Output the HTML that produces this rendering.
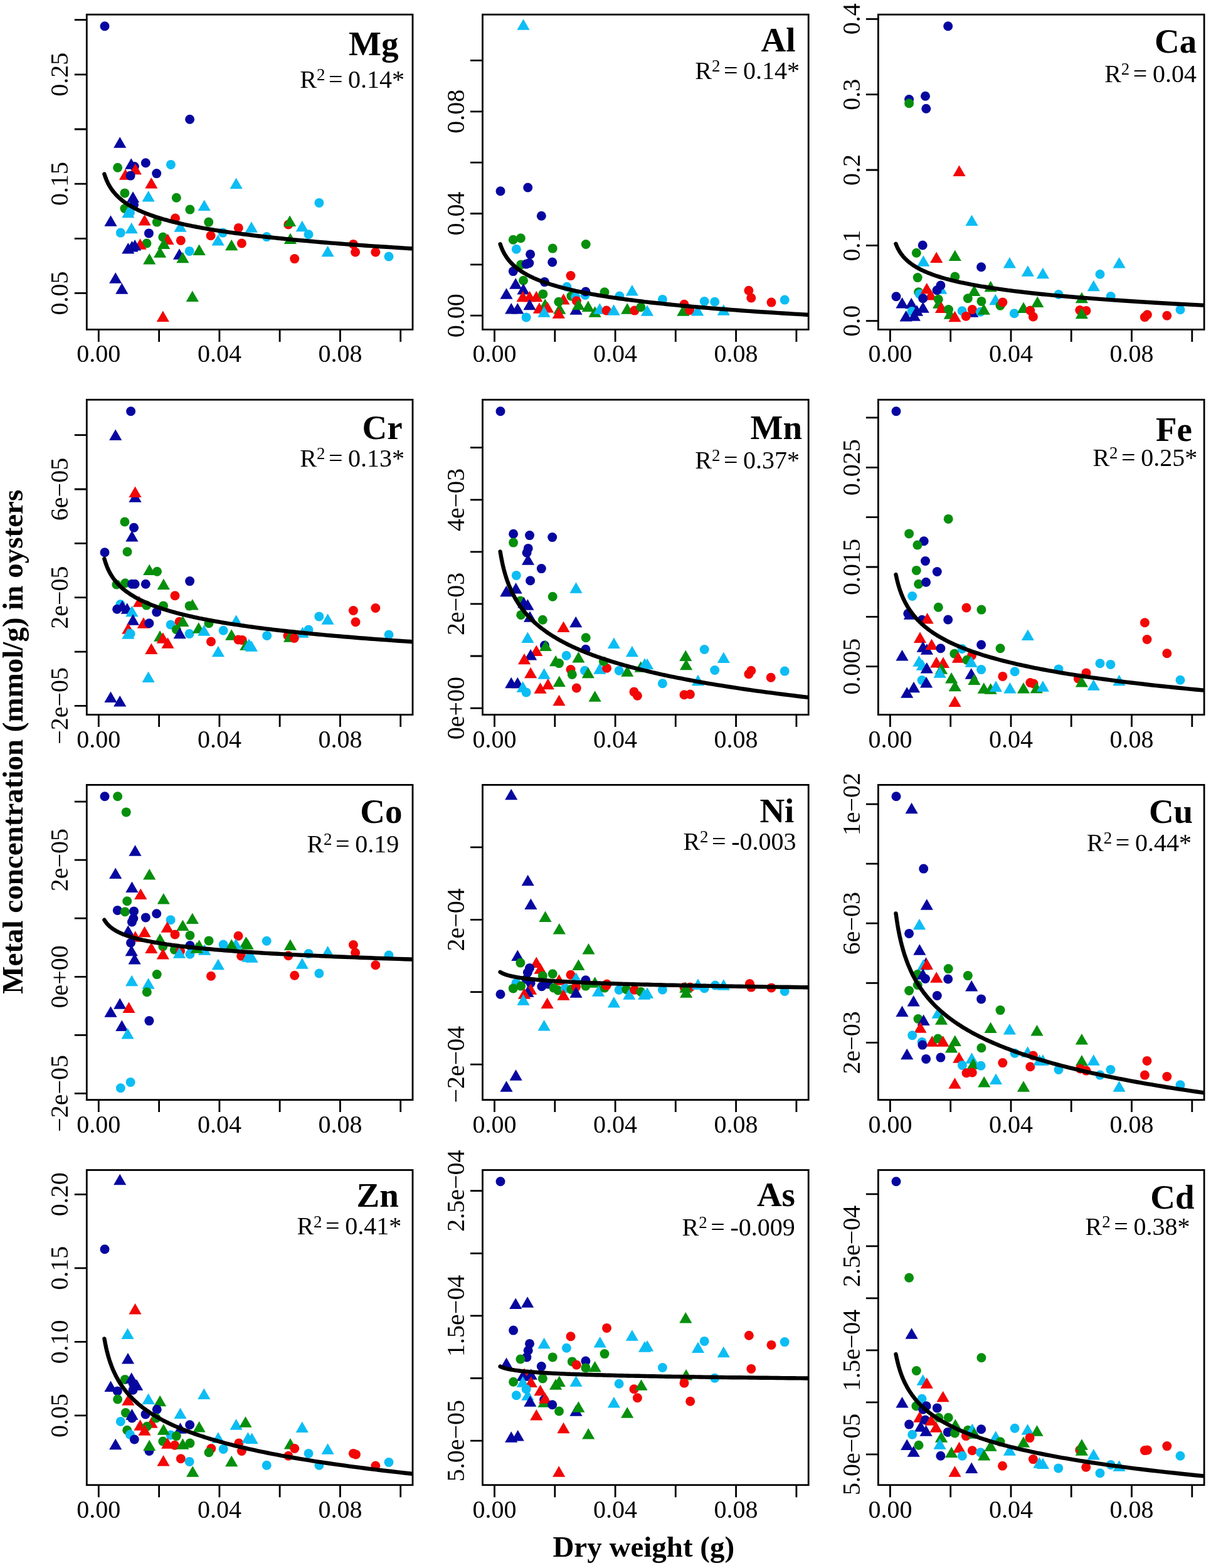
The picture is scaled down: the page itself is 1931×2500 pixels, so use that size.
<!DOCTYPE html><html><head><meta charset="utf-8"><title>Metal concentration vs dry weight</title><style>html,body{margin:0;padding:0;background:#fff;width:1931px;height:2500px;overflow:hidden}svg{display:block}text{font-family:"Liberation Serif","Times New Roman",serif;fill:#000}</style></head><body><svg width="1931" height="2500" viewBox="0 0 1931 2500"><rect width="1931" height="2500" fill="#fff"/><g><clipPath id="cMg"><rect x="138.3" y="23.2" width="519.7" height="502.2"/></clipPath><g clip-path="url(#cMg)"><circle cx="167" cy="41.8" r="7.5" fill="#0707a0"/><circle cx="302.6" cy="190.2" r="7.5" fill="#0707a0"/><path d="M191.2 218.3L201.3 235.8L181.1 235.8Z" fill="#0707a0"/><circle cx="187.6" cy="267.2" r="7.5" fill="#068f0c"/><path d="M209.2 252.3L219.3 269.8L199.1 269.8Z" fill="#0707a0"/><circle cx="214.3" cy="265.5" r="7.5" fill="#0707a0"/><path d="M215.8 260.7L225.9 278.2L205.7 278.2Z" fill="#f20606"/><path d="M200 269.3L210.1 286.8L189.9 286.8Z" fill="#f20606"/><circle cx="208.1" cy="280.1" r="7.5" fill="#0707a0"/><circle cx="232.3" cy="259.8" r="7.5" fill="#0707a0"/><circle cx="249.7" cy="276.6" r="7.5" fill="#0707a0"/><circle cx="272.4" cy="262.4" r="7.5" fill="#0cbdf4"/><path d="M241.3 283.1L251.4 300.6L231.2 300.6Z" fill="#f20606"/><path d="M376.6 283.4L386.7 300.9L366.5 300.9Z" fill="#0cbdf4"/><circle cx="198.9" cy="307.9" r="7.5" fill="#068f0c"/><path d="M212 305.3L222.1 322.8L201.9 322.8Z" fill="#0707a0"/><circle cx="213.5" cy="326.4" r="7.5" fill="#0707a0"/><path d="M236.6 303.9L246.7 321.4L226.5 321.4Z" fill="#0cbdf4"/><circle cx="281.3" cy="315.3" r="7.5" fill="#068f0c"/><circle cx="302.9" cy="334.1" r="7.5" fill="#068f0c"/><path d="M325.7 318.5L335.8 336L315.6 336Z" fill="#0cbdf4"/><circle cx="198.9" cy="332.5" r="7.5" fill="#068f0c"/><circle cx="207.4" cy="338.7" r="7.5" fill="#0cbdf4"/><path d="M204.3 329.8L214.4 347.3L194.2 347.3Z" fill="#0cbdf4"/><path d="M176.5 343.2L186.6 360.7L166.4 360.7Z" fill="#0707a0"/><path d="M230.5 342.1L240.6 359.6L220.4 359.6Z" fill="#f20606"/><circle cx="250.2" cy="354.1" r="7.5" fill="#068f0c"/><circle cx="279.5" cy="348" r="7.5" fill="#f20606"/><circle cx="332.7" cy="354.1" r="7.5" fill="#068f0c"/><circle cx="380.3" cy="363.4" r="7.5" fill="#f20606"/><circle cx="192.3" cy="371.1" r="7.5" fill="#0cbdf4"/><path d="M209.7 354.8L219.8 372.3L199.6 372.3Z" fill="#0cbdf4"/><circle cx="237.4" cy="371.9" r="7.5" fill="#0707a0"/><path d="M287.5 352.3L297.6 369.8L277.4 369.8Z" fill="#0cbdf4"/><circle cx="336.1" cy="375.7" r="7.5" fill="#f20606"/><circle cx="355.3" cy="371.1" r="7.5" fill="#0cbdf4"/><circle cx="259.8" cy="378" r="7.5" fill="#068f0c"/><path d="M267.5 372.5L277.6 390L257.4 390Z" fill="#f20606"/><circle cx="288.3" cy="383.4" r="7.5" fill="#f20606"/><path d="M347.6 374L357.7 391.5L337.5 391.5Z" fill="#0cbdf4"/><path d="M369.2 381.7L379.3 399.2L359.1 399.2Z" fill="#068f0c"/><circle cx="385.4" cy="388" r="7.5" fill="#f20606"/><circle cx="233.9" cy="388" r="7.5" fill="#068f0c"/><path d="M223.5 380.2L233.6 397.7L213.4 397.7Z" fill="#f20606"/><path d="M204.3 387.1L214.4 404.6L194.2 404.6Z" fill="#0707a0"/><path d="M210.4 384.1L220.5 401.6L200.3 401.6Z" fill="#0707a0"/><path d="M215.1 382.1L225.2 399.6L205 399.6Z" fill="#0707a0"/><path d="M261.3 379.4L271.4 396.9L251.2 396.9Z" fill="#068f0c"/><path d="M255.1 393.3L265.2 410.8L245 410.8Z" fill="#068f0c"/><circle cx="302.1" cy="400.4" r="7.5" fill="#0cbdf4"/><path d="M317.6 389.4L327.7 406.9L307.5 406.9Z" fill="#068f0c"/><path d="M286 396.3L296.1 413.8L275.9 413.8Z" fill="#0707a0"/><path d="M291.4 401.8L301.5 419.3L281.3 419.3Z" fill="#068f0c"/><path d="M238.2 404.1L248.3 421.6L228.1 421.6Z" fill="#068f0c"/><path d="M184.2 434.3L194.3 451.8L174.1 451.8Z" fill="#0707a0"/><path d="M194.3 451.2L204.4 468.7L184.2 468.7Z" fill="#0707a0"/><path d="M306.8 463.6L316.9 481.1L296.7 481.1Z" fill="#068f0c"/><path d="M259.8 495.6L269.9 513.1L249.7 513.1Z" fill="#f20606"/><circle cx="508.9" cy="323.4" r="7.5" fill="#0cbdf4"/><circle cx="459.8" cy="358" r="7.5" fill="#f20606"/><path d="M462.1 343.6L472.2 361.1L452 361.1Z" fill="#068f0c"/><path d="M400.9 353.3L411 370.8L390.8 370.8Z" fill="#0cbdf4"/><path d="M481.8 351.8L491.9 369.3L471.7 369.3Z" fill="#0cbdf4"/><circle cx="492" cy="373.7" r="7.5" fill="#0cbdf4"/><circle cx="425.2" cy="377.6" r="7.5" fill="#0cbdf4"/><path d="M462.9 371.4L473 388.9L452.8 388.9Z" fill="#068f0c"/><path d="M522.6 391.8L532.7 409.3L512.5 409.3Z" fill="#0cbdf4"/><circle cx="563.4" cy="389.4" r="7.5" fill="#f20606"/><circle cx="566.6" cy="402" r="7.5" fill="#f20606"/><circle cx="598.8" cy="402" r="7.5" fill="#f20606"/><circle cx="620" cy="409" r="7.5" fill="#0cbdf4"/><circle cx="469.7" cy="412.6" r="7.5" fill="#f20606"/><path d="M166.4 277.6L166.8 278.8L167.2 279.9L167.6 281.1L168 282.2L168.4 283.4L168.9 284.6L169.3 285.7L169.8 286.9L170.3 288.1L170.8 289.2L171.4 290.4L171.9 291.6L172.5 292.7L173.1 293.9L173.8 295L174.4 296.2L175.1 297.4L175.8 298.5L176.6 299.7L177.3 300.9L178.1 302L179 303.2L179.8 304.4L180.7 305.5L181.7 306.7L182.7 307.8L183.7 309L184.7 310.2L185.8 311.3L187 312.5L188.2 313.7L189.4 314.8L190.7 316L192 317.2L193.4 318.3L194.8 319.5L196.3 320.6L197.9 321.8L199.5 323L201.2 324.1L203 325.3L204.8 326.5L206.7 327.6L208.7 328.8L210.7 330L212.9 331.1L215.1 332.3L217.4 333.4L219.8 334.6L222.3 335.8L224.9 336.9L227.6 338.1L230.4 339.3L233.3 340.4L236.4 341.6L239.5 342.8L242.8 343.9L246.3 345.1L249.8 346.2L253.5 347.4L257.4 348.6L259.4 349.2L261.4 349.8L263.5 350.3L265.6 350.9L267.8 351.5L270 352.1L272.2 352.7L274.5 353.3L276.9 353.9L279.3 354.5L281.7 355L284.2 355.6L286.7 356.2L289.3 356.8L292 357.4L294.7 358L297.4 358.6L300.2 359.2L303.1 359.7L306 360.3L309 360.9L312 361.5L315.1 362.1L318.3 362.7L321.5 363.3L324.8 363.9L328.1 364.4L331.5 365L335 365.6L338.6 366.2L342.2 366.8L345.9 367.4L349.7 368L353.5 368.6L357.4 369.1L361.4 369.7L365.5 370.3L369.7 370.9L373.9 371.5L378.3 372.1L382.7 372.7L387.2 373.3L391.8 373.8L396.5 374.4L401.3 375L406.1 375.6L411.1 376.2L416.2 376.8L421.4 377.4L426.6 378L432 378.5L437.5 379.1L443.1 379.7L448.8 380.3L454.7 380.9L460.6 381.5L466.7 382.1L472.9 382.7L479.2 383.2L485.6 383.8L492.2 384.4L498.9 385L505.7 385.6L512.7 386.2L519.8 386.8L527 387.4L534.4 387.9L542 388.5L549.7 389.1L557.5 389.7L565.5 390.3L573.7 390.9L582 391.5L590.5 392.1L599.2 392.6L608 393.2L617 393.8L626.2 394.4L635.6 395L645.2 395.6L654.9 396.2L664.9 396.8" fill="none" stroke="#000" stroke-width="6.4" stroke-linejoin="round" stroke-linecap="round"/></g><rect x="138.3" y="23.2" width="519.7" height="502.2" fill="none" stroke="#000" stroke-width="2.8"/><path d="M157.3 525.4V544.9M253.6 525.4V544.9M349.9 525.4V544.9M446.1 525.4V544.9M542.4 525.4V544.9M638.7 525.4V544.9M138.3 467.4H118.8M138.3 380.3H118.8M138.3 293.1H118.8M138.3 206H118.8M138.3 118.8H118.8M138.3 31.7H118.8" stroke="#000" stroke-width="2.8" fill="none"/><text x="157.3" y="577.4" font-size="40.0" text-anchor="middle">0.00</text><text x="349.9" y="577.4" font-size="40.0" text-anchor="middle">0.04</text><text x="542.4" y="577.4" font-size="40.0" text-anchor="middle">0.08</text><text transform="translate(108.4 467.4) rotate(-90)" font-size="40.0" text-anchor="middle">0.05</text><text transform="translate(108.4 293.1) rotate(-90)" font-size="40.0" text-anchor="middle">0.15</text><text transform="translate(108.4 118.8) rotate(-90)" font-size="40.0" text-anchor="middle">0.25</text><text x="635.5" y="87.5" font-size="55" font-weight="bold" text-anchor="end">Mg</text><text x="478.3" y="140.3" font-size="40.0">R</text><text x="504.9" y="128.4" font-size="26.9">2</text><text x="523.9" y="140.3" font-size="40.0">=</text><text x="555.1" y="140.3" font-size="40.0">0.14*</text></g><g><clipPath id="cAl"><rect x="769.5" y="23.2" width="519.7" height="502.2"/></clipPath><g clip-path="url(#cAl)"><path d="M834.5 30.3L844.6 47.8L824.4 47.8Z" fill="#0cbdf4"/><circle cx="798" cy="304.7" r="7.5" fill="#0707a0"/><circle cx="841.7" cy="299" r="7.5" fill="#0707a0"/><circle cx="863.3" cy="344.3" r="7.5" fill="#0707a0"/><circle cx="818.3" cy="382.2" r="7.5" fill="#068f0c"/><circle cx="830.3" cy="379.8" r="7.5" fill="#068f0c"/><circle cx="934.2" cy="389.5" r="7.5" fill="#068f0c"/><circle cx="823.3" cy="397.2" r="7.5" fill="#0cbdf4"/><circle cx="881.2" cy="396.1" r="7.5" fill="#068f0c"/><circle cx="845.6" cy="405.4" r="7.5" fill="#0707a0"/><circle cx="830.7" cy="421.9" r="7.5" fill="#068f0c"/><circle cx="839.1" cy="421.1" r="7.5" fill="#0707a0"/><circle cx="843.8" cy="419.5" r="7.5" fill="#0707a0"/><circle cx="880.7" cy="418" r="7.5" fill="#0707a0"/><circle cx="818.3" cy="432.6" r="7.5" fill="#0707a0"/><circle cx="910" cy="439.6" r="7.5" fill="#f20606"/><circle cx="834.5" cy="447.3" r="7.5" fill="#068f0c"/><circle cx="868.4" cy="449.6" r="7.5" fill="#0707a0"/><path d="M822.2 443.3L832.3 460.8L812.1 460.8Z" fill="#0707a0"/><path d="M807.5 459.2L817.6 476.7L797.4 476.7Z" fill="#0707a0"/><path d="M834.5 452.1L844.6 469.6L824.4 469.6Z" fill="#0707a0"/><circle cx="903.9" cy="457.3" r="7.5" fill="#0cbdf4"/><path d="M833.7 463.8L843.8 481.3L823.6 481.3Z" fill="#f20606"/><path d="M844.5 463.8L854.6 481.3L834.4 481.3Z" fill="#f20606"/><path d="M855.3 463.8L865.4 481.3L845.2 481.3Z" fill="#f20606"/><circle cx="865.8" cy="468.9" r="7.5" fill="#068f0c"/><circle cx="910.8" cy="472" r="7.5" fill="#068f0c"/><circle cx="917.7" cy="473.5" r="7.5" fill="#0cbdf4"/><path d="M898.5 468L908.6 485.5L888.4 485.5Z" fill="#f20606"/><circle cx="919.3" cy="479.7" r="7.5" fill="#f20606"/><circle cx="933.1" cy="470.4" r="7.5" fill="#0cbdf4"/><circle cx="933.9" cy="465" r="7.5" fill="#0707a0"/><circle cx="964" cy="465.8" r="7.5" fill="#068f0c"/><circle cx="987.9" cy="472" r="7.5" fill="#0cbdf4"/><path d="M1007.9 454.1L1018 471.6L997.8 471.6Z" fill="#0cbdf4"/><path d="M844.5 476.7L854.6 494.2L834.4 494.2Z" fill="#0707a0"/><path d="M869.2 476.3L879.3 493.8L859.1 493.8Z" fill="#068f0c"/><circle cx="890.8" cy="481.2" r="7.5" fill="#068f0c"/><path d="M859.9 482.3L870 499.8L849.8 499.8Z" fill="#f20606"/><path d="M873 481.1L883.1 498.6L862.9 498.6Z" fill="#f20606"/><path d="M892.3 483.3L902.4 500.8L882.2 500.8Z" fill="#068f0c"/><path d="M918.5 484.3L928.6 501.8L908.4 501.8Z" fill="#0707a0"/><path d="M922.4 476.4L932.5 493.9L912.3 493.9Z" fill="#068f0c"/><path d="M937.8 479.5L947.9 497L927.7 497Z" fill="#068f0c"/><path d="M948.6 488.3L958.7 505.8L938.5 505.8Z" fill="#068f0c"/><path d="M956.3 483.3L966.4 500.8L946.2 500.8Z" fill="#0cbdf4"/><circle cx="967.1" cy="495.1" r="7.5" fill="#f20606"/><path d="M978.6 485.3L988.7 502.8L968.5 502.8Z" fill="#0cbdf4"/><path d="M1000.2 483.3L1010.3 500.8L990.1 500.8Z" fill="#068f0c"/><circle cx="1011.8" cy="495.1" r="7.5" fill="#f20606"/><circle cx="1021.8" cy="489.7" r="7.5" fill="#068f0c"/><path d="M815.2 483.1L825.3 500.6L805.1 500.6Z" fill="#0707a0"/><path d="M825.3 483.1L835.4 500.6L815.2 500.6Z" fill="#0707a0"/><path d="M890.8 490.3L900.9 507.8L880.7 507.8Z" fill="#f20606"/><path d="M867.6 488.3L877.7 505.8L857.5 505.8Z" fill="#0cbdf4"/><circle cx="839.1" cy="505.9" r="7.5" fill="#0cbdf4"/><circle cx="1056.4" cy="477.4" r="7.5" fill="#0cbdf4"/><path d="M1032 486.3L1042.1 503.8L1021.9 503.8Z" fill="#0cbdf4"/><circle cx="1091" cy="485.2" r="7.5" fill="#f20606"/><path d="M1089.4 486.3L1099.5 503.8L1079.3 503.8Z" fill="#068f0c"/><circle cx="1099.6" cy="494.6" r="7.5" fill="#f20606"/><path d="M1112.2 486.1L1122.3 503.6L1102.1 503.6Z" fill="#0cbdf4"/><circle cx="1123.2" cy="480.5" r="7.5" fill="#0cbdf4"/><circle cx="1139.7" cy="481.3" r="7.5" fill="#0cbdf4"/><path d="M1153.8 485.3L1163.9 502.8L1143.7 502.8Z" fill="#0cbdf4"/><circle cx="1193.9" cy="463.2" r="7.5" fill="#f20606"/><circle cx="1197.8" cy="475" r="7.5" fill="#f20606"/><circle cx="1230" cy="482.1" r="7.5" fill="#f20606"/><circle cx="1251.2" cy="478.1" r="7.5" fill="#0cbdf4"/><path d="M797.6 389.2L798 390.3L798.4 391.4L798.8 392.5L799.2 393.6L799.6 394.7L800.1 395.8L800.5 396.9L801 398L801.5 399.1L802 400.2L802.6 401.3L803.1 402.4L803.7 403.5L804.3 404.6L805 405.7L805.6 406.8L806.3 407.9L807 409L807.8 410.1L808.5 411.2L809.3 412.3L810.2 413.5L811 414.6L811.9 415.7L812.9 416.8L813.9 417.9L814.9 419L815.9 420.1L817 421.2L818.2 422.3L819.4 423.4L820.6 424.5L821.9 425.6L823.2 426.7L824.6 427.8L826 428.9L827.5 430L829.1 431.1L830.7 432.2L832.4 433.3L834.2 434.4L836 435.5L837.9 436.6L839.9 437.7L841.9 438.9L844.1 440L846.3 441.1L848.6 442.2L851 443.3L853.5 444.4L856.1 445.5L858.8 446.6L861.6 447.7L864.5 448.8L867.6 449.9L870.7 451L874 452.1L877.5 453.2L881 454.3L884.7 455.4L888.6 456.5L890.6 457.1L892.6 457.6L894.7 458.2L896.8 458.8L899 459.3L901.2 459.9L903.4 460.4L905.7 461L908.1 461.5L910.5 462.1L912.9 462.7L915.4 463.2L917.9 463.8L920.5 464.3L923.2 464.9L925.9 465.4L928.6 466L931.4 466.6L934.3 467.1L937.2 467.7L940.2 468.2L943.2 468.8L946.3 469.3L949.5 469.9L952.7 470.5L956 471L959.3 471.6L962.7 472.1L966.2 472.7L969.8 473.3L973.4 473.8L977.1 474.4L980.9 474.9L984.7 475.5L988.6 476L992.6 476.6L996.7 477.2L1000.9 477.7L1005.1 478.3L1009.5 478.8L1013.9 479.4L1018.4 479.9L1023 480.5L1027.7 481.1L1032.5 481.6L1037.3 482.2L1042.3 482.7L1047.4 483.3L1052.6 483.8L1057.8 484.4L1063.2 485L1068.7 485.5L1074.3 486.1L1080 486.6L1085.9 487.2L1091.8 487.8L1097.9 488.3L1104.1 488.9L1110.4 489.4L1116.8 490L1123.4 490.5L1130.1 491.1L1136.9 491.7L1143.9 492.2L1151 492.8L1158.2 493.3L1165.6 493.9L1173.2 494.4L1180.9 495L1188.7 495.6L1196.7 496.1L1204.9 496.7L1213.2 497.2L1221.7 497.8L1230.4 498.3L1239.2 498.9L1248.2 499.5L1257.4 500L1266.8 500.6L1276.4 501.1L1286.1 501.7L1296.1 502.3" fill="none" stroke="#000" stroke-width="6.4" stroke-linejoin="round" stroke-linecap="round"/></g><rect x="769.5" y="23.2" width="519.7" height="502.2" fill="none" stroke="#000" stroke-width="2.8"/><path d="M788.5 525.4V544.9M884.8 525.4V544.9M981.1 525.4V544.9M1077.3 525.4V544.9M1173.6 525.4V544.9M1269.9 525.4V544.9M769.5 503.2H750M769.5 421.8H750M769.5 340.5H750M769.5 259.1H750M769.5 177.8H750M769.5 96.4H750" stroke="#000" stroke-width="2.8" fill="none"/><text x="788.5" y="577.4" font-size="40.0" text-anchor="middle">0.00</text><text x="981.1" y="577.4" font-size="40.0" text-anchor="middle">0.04</text><text x="1173.6" y="577.4" font-size="40.0" text-anchor="middle">0.08</text><text transform="translate(739.6 503.2) rotate(-90)" font-size="40.0" text-anchor="middle">0.00</text><text transform="translate(739.6 340.5) rotate(-90)" font-size="40.0" text-anchor="middle">0.04</text><text transform="translate(739.6 177.8) rotate(-90)" font-size="40.0" text-anchor="middle">0.08</text><text x="1268.5" y="81.6" font-size="55" font-weight="bold" text-anchor="end">Al</text><text x="1108.3" y="126" font-size="40.0">R</text><text x="1134.9" y="114.1" font-size="26.9">2</text><text x="1153.9" y="126" font-size="40.0">=</text><text x="1185.1" y="126" font-size="40.0">0.14*</text></g><g><clipPath id="cCa"><rect x="1400.4" y="23.2" width="519.7" height="502.2"/></clipPath><g clip-path="url(#cCa)"><circle cx="1511.7" cy="41.8" r="7.5" fill="#0707a0"/><circle cx="1449.6" cy="158.6" r="7.5" fill="#0707a0"/><circle cx="1449.6" cy="164.8" r="7.5" fill="#068f0c"/><circle cx="1475.5" cy="153.2" r="7.5" fill="#0707a0"/><circle cx="1476.8" cy="173.3" r="7.5" fill="#0707a0"/><path d="M1529.5 263.6L1539.6 281.1L1519.4 281.1Z" fill="#f20606"/><path d="M1549.5 342.5L1559.6 360L1539.4 360Z" fill="#0cbdf4"/><circle cx="1471.2" cy="391" r="7.5" fill="#0707a0"/><circle cx="1461.3" cy="403.3" r="7.5" fill="#068f0c"/><path d="M1472.4 407.3L1482.5 424.8L1462.3 424.8Z" fill="#0cbdf4"/><path d="M1493.2 401.6L1503.3 419.1L1483.1 419.1Z" fill="#f20606"/><path d="M1522.8 398.6L1532.9 416.1L1512.7 416.1Z" fill="#068f0c"/><circle cx="1564.6" cy="425.7" r="7.5" fill="#0707a0"/><path d="M1609.9 410.1L1620 427.6L1599.8 427.6Z" fill="#0cbdf4"/><path d="M1638.9 423.2L1649 440.7L1628.8 440.7Z" fill="#0cbdf4"/><path d="M1662.9 426.7L1673 444.2L1652.8 444.2Z" fill="#0cbdf4"/><circle cx="1463.2" cy="442.6" r="7.5" fill="#068f0c"/><circle cx="1522.8" cy="441.1" r="7.5" fill="#068f0c"/><circle cx="1464.7" cy="465.7" r="7.5" fill="#068f0c"/><circle cx="1466.3" cy="468.8" r="7.5" fill="#0cbdf4"/><path d="M1477.8 451L1487.9 468.5L1467.7 468.5Z" fill="#f20606"/><path d="M1500.2 451.3L1510.3 468.8L1490.1 468.8Z" fill="#0cbdf4"/><circle cx="1494" cy="462.7" r="7.5" fill="#0707a0"/><circle cx="1499.9" cy="455" r="7.5" fill="#0707a0"/><circle cx="1429" cy="472.7" r="7.5" fill="#0707a0"/><path d="M1438.5 474.1L1448.6 491.6L1428.4 491.6Z" fill="#0707a0"/><path d="M1453.2 474.7L1463.3 492.2L1443.1 492.2Z" fill="#0707a0"/><path d="M1484 461L1494.1 478.5L1473.9 478.5Z" fill="#f20606"/><circle cx="1471.7" cy="475.8" r="7.5" fill="#0707a0"/><circle cx="1496.3" cy="477.3" r="7.5" fill="#068f0c"/><circle cx="1454" cy="496.6" r="7.5" fill="#0cbdf4"/><path d="M1471.7 481.3L1481.8 498.8L1461.6 498.8Z" fill="#0707a0"/><path d="M1462 486.3L1472.1 503.8L1451.9 503.8Z" fill="#0707a0"/><path d="M1444.7 494.9L1454.8 512.4L1434.6 512.4Z" fill="#0707a0"/><path d="M1457.8 494.3L1467.9 511.8L1447.7 511.8Z" fill="#0707a0"/><path d="M1497.1 474.3L1507.2 491.8L1487 491.8Z" fill="#068f0c"/><path d="M1501 481.6L1511.1 499.1L1490.9 499.1Z" fill="#f20606"/><circle cx="1512.5" cy="493.5" r="7.5" fill="#068f0c"/><path d="M1514.8 491.3L1524.9 508.8L1504.7 508.8Z" fill="#068f0c"/><path d="M1522.5 495.7L1532.6 513.2L1512.4 513.2Z" fill="#f20606"/><circle cx="1534.1" cy="495.8" r="7.5" fill="#0cbdf4"/><path d="M1550.3 488.3L1560.4 505.8L1540.2 505.8Z" fill="#0707a0"/><circle cx="1550.3" cy="493.5" r="7.5" fill="#f20606"/><circle cx="1540.3" cy="504.3" r="7.5" fill="#f20606"/><circle cx="1563.4" cy="497.3" r="7.5" fill="#0cbdf4"/><path d="M1568.8 484.2L1578.9 501.7L1558.7 501.7Z" fill="#068f0c"/><path d="M1553.4 454.5L1563.5 472L1543.3 472Z" fill="#068f0c"/><circle cx="1543.3" cy="475.8" r="7.5" fill="#068f0c"/><path d="M1579.6 447.7L1589.7 465.2L1569.5 465.2Z" fill="#068f0c"/><circle cx="1564.9" cy="480.4" r="7.5" fill="#068f0c"/><path d="M1587.3 468.8L1597.4 486.3L1577.2 486.3Z" fill="#0cbdf4"/><circle cx="1595" cy="487.3" r="7.5" fill="#068f0c"/><circle cx="1598.8" cy="481.9" r="7.5" fill="#f20606"/><circle cx="1617.3" cy="499.7" r="7.5" fill="#0cbdf4"/><path d="M1632 481.6L1642.1 499.1L1621.9 499.1Z" fill="#068f0c"/><circle cx="1642.8" cy="495" r="7.5" fill="#f20606"/><circle cx="1647.4" cy="505" r="7.5" fill="#f20606"/><path d="M1654.3 472.6L1664.4 490.1L1644.2 490.1Z" fill="#068f0c"/><path d="M1784.6 409.9L1794.7 427.4L1774.5 427.4Z" fill="#0cbdf4"/><circle cx="1754" cy="437.3" r="7.5" fill="#0cbdf4"/><path d="M1743.8 446.8L1753.9 464.3L1733.7 464.3Z" fill="#0cbdf4"/><circle cx="1688" cy="469.5" r="7.5" fill="#0cbdf4"/><circle cx="1771.2" cy="472.6" r="7.5" fill="#0cbdf4"/><path d="M1724.9 465.7L1735 483.2L1714.8 483.2Z" fill="#068f0c"/><circle cx="1721.8" cy="494.6" r="7.5" fill="#f20606"/><circle cx="1732" cy="495.4" r="7.5" fill="#f20606"/><path d="M1724.9 490.8L1735 508.3L1714.8 508.3Z" fill="#068f0c"/><circle cx="1825.4" cy="505.6" r="7.5" fill="#f20606"/><circle cx="1829.4" cy="501.7" r="7.5" fill="#f20606"/><circle cx="1860.8" cy="503.3" r="7.5" fill="#f20606"/><circle cx="1882" cy="493.8" r="7.5" fill="#0cbdf4"/><path d="M1428.5 388.8L1428.9 389.8L1429.3 390.8L1429.7 391.7L1430.1 392.7L1430.5 393.6L1431 394.6L1431.4 395.6L1431.9 396.5L1432.4 397.5L1432.9 398.4L1433.5 399.4L1434 400.3L1434.6 401.3L1435.2 402.3L1435.9 403.2L1436.5 404.2L1437.2 405.1L1437.9 406.1L1438.7 407.1L1439.4 408L1440.2 409L1441.1 409.9L1441.9 410.9L1442.8 411.9L1443.8 412.8L1444.8 413.8L1445.8 414.7L1446.8 415.7L1447.9 416.7L1449.1 417.6L1450.3 418.6L1451.5 419.5L1452.8 420.5L1454.1 421.5L1455.5 422.4L1456.9 423.4L1458.4 424.3L1460 425.3L1461.6 426.3L1463.3 427.2L1465.1 428.2L1466.9 429.1L1468.8 430.1L1470.8 431L1472.8 432L1475 433L1477.2 433.9L1479.5 434.9L1481.9 435.8L1484.4 436.8L1487 437.8L1489.7 438.7L1492.5 439.7L1495.4 440.6L1498.5 441.6L1501.6 442.6L1504.9 443.5L1508.4 444.5L1511.9 445.4L1515.6 446.4L1519.5 447.4L1521.5 447.8L1523.5 448.3L1525.6 448.8L1527.7 449.3L1529.9 449.8L1532.1 450.3L1534.3 450.7L1536.6 451.2L1539 451.7L1541.4 452.2L1543.8 452.7L1546.3 453.2L1548.8 453.7L1551.4 454.1L1554.1 454.6L1556.8 455.1L1559.5 455.6L1562.3 456.1L1565.2 456.6L1568.1 457L1571.1 457.5L1574.1 458L1577.2 458.5L1580.4 459L1583.6 459.5L1586.9 459.9L1590.2 460.4L1593.6 460.9L1597.1 461.4L1600.7 461.9L1604.3 462.4L1608 462.9L1611.8 463.3L1615.6 463.8L1619.5 464.3L1623.5 464.8L1627.6 465.3L1631.8 465.8L1636 466.2L1640.4 466.7L1644.8 467.2L1649.3 467.7L1653.9 468.2L1658.6 468.7L1663.4 469.2L1668.2 469.6L1673.2 470.1L1678.3 470.6L1683.5 471.1L1688.7 471.6L1694.1 472.1L1699.6 472.5L1705.2 473L1710.9 473.5L1716.8 474L1722.7 474.5L1728.8 475L1735 475.4L1741.3 475.9L1747.7 476.4L1754.3 476.9L1761 477.4L1767.8 477.9L1774.8 478.4L1781.9 478.8L1789.1 479.3L1796.5 479.8L1804.1 480.3L1811.8 480.8L1819.6 481.3L1827.6 481.7L1835.8 482.2L1844.1 482.7L1852.6 483.2L1861.3 483.7L1870.1 484.2L1879.1 484.7L1888.3 485.1L1897.7 485.6L1907.3 486.1L1917 486.6L1927 487.1" fill="none" stroke="#000" stroke-width="6.4" stroke-linejoin="round" stroke-linecap="round"/></g><rect x="1400.4" y="23.2" width="519.7" height="502.2" fill="none" stroke="#000" stroke-width="2.8"/><path d="M1419.4 525.4V544.9M1515.7 525.4V544.9M1612 525.4V544.9M1708.2 525.4V544.9M1804.5 525.4V544.9M1900.8 525.4V544.9M1400.4 511.7H1380.9M1400.4 391.4H1380.9M1400.4 271H1380.9M1400.4 150.7H1380.9M1400.4 30.3H1380.9" stroke="#000" stroke-width="2.8" fill="none"/><text x="1419.4" y="577.4" font-size="40.0" text-anchor="middle">0.00</text><text x="1612" y="577.4" font-size="40.0" text-anchor="middle">0.04</text><text x="1804.5" y="577.4" font-size="40.0" text-anchor="middle">0.08</text><text transform="translate(1370.5 511.7) rotate(-90)" font-size="40.0" text-anchor="middle">0.0</text><text transform="translate(1370.5 391.4) rotate(-90)" font-size="40.0" text-anchor="middle">0.1</text><text transform="translate(1370.5 271) rotate(-90)" font-size="40.0" text-anchor="middle">0.2</text><text transform="translate(1370.5 150.7) rotate(-90)" font-size="40.0" text-anchor="middle">0.3</text><text transform="translate(1370.5 30.3) rotate(-90)" font-size="40.0" text-anchor="middle">0.4</text><text x="1908.3" y="84.4" font-size="55" font-weight="bold" text-anchor="end">Ca</text><text x="1761.2" y="130.7" font-size="40.0">R</text><text x="1787.8" y="118.8" font-size="26.9">2</text><text x="1806.8" y="130.7" font-size="40.0">=</text><text x="1838" y="130.7" font-size="40.0">0.04</text></g><g><clipPath id="cCr"><rect x="138.3" y="637.3" width="519.7" height="502.2"/></clipPath><g clip-path="url(#cCr)"><circle cx="208.6" cy="655.8" r="7.5" fill="#0707a0"/><path d="M184.2 684.5L194.3 702L174.1 702Z" fill="#0707a0"/><path d="M215.5 783.3L225.6 800.8L205.4 800.8Z" fill="#0707a0"/><path d="M215.5 775.6L225.6 793.1L205.4 793.1Z" fill="#f20606"/><circle cx="198.9" cy="832" r="7.5" fill="#068f0c"/><circle cx="213.5" cy="841.2" r="7.5" fill="#0707a0"/><path d="M210.4 846L220.5 863.5L200.3 863.5Z" fill="#0707a0"/><circle cx="167" cy="880.8" r="7.5" fill="#0707a0"/><circle cx="203" cy="879.8" r="7.5" fill="#068f0c"/><path d="M238.2 899.5L248.3 917L228.1 917Z" fill="#068f0c"/><circle cx="250.5" cy="911.2" r="7.5" fill="#068f0c"/><circle cx="302.6" cy="926.6" r="7.5" fill="#0707a0"/><circle cx="185.8" cy="932" r="7.5" fill="#068f0c"/><circle cx="199.7" cy="929.7" r="7.5" fill="#068f0c"/><circle cx="210.4" cy="931.2" r="7.5" fill="#0707a0"/><circle cx="215.1" cy="931.2" r="7.5" fill="#0707a0"/><circle cx="232.3" cy="931.2" r="7.5" fill="#0707a0"/><path d="M260.8 922.6L270.9 940.1L250.7 940.1Z" fill="#068f0c"/><circle cx="279" cy="949.7" r="7.5" fill="#f20606"/><circle cx="192" cy="963.6" r="7.5" fill="#0cbdf4"/><circle cx="186.6" cy="971.3" r="7.5" fill="#0707a0"/><path d="M195 957.3L205.1 974.8L184.9 974.8Z" fill="#0707a0"/><path d="M202.7 961.3L212.8 978.8L192.6 978.8Z" fill="#0707a0"/><path d="M210.4 965.8L220.5 983.3L200.3 983.3Z" fill="#0cbdf4"/><path d="M222 950.3L232.1 967.8L211.9 967.8Z" fill="#f20606"/><circle cx="233.6" cy="965.1" r="7.5" fill="#068f0c"/><circle cx="249.7" cy="975.9" r="7.5" fill="#0707a0"/><circle cx="260.5" cy="965.9" r="7.5" fill="#068f0c"/><path d="M306.8 955L316.9 972.5L296.7 972.5Z" fill="#068f0c"/><circle cx="302.1" cy="965.9" r="7.5" fill="#068f0c"/><path d="M212 979.2L222.1 996.7L201.9 996.7Z" fill="#0707a0"/><path d="M228.9 984.3L239 1001.8L218.8 1001.8Z" fill="#f20606"/><circle cx="237.9" cy="993.7" r="7.5" fill="#0707a0"/><path d="M204.3 993.3L214.4 1010.8L194.2 1010.8Z" fill="#f20606"/><path d="M204.3 1001.3L214.4 1018.8L194.2 1018.8Z" fill="#0cbdf4"/><circle cx="208.1" cy="1010.6" r="7.5" fill="#0cbdf4"/><circle cx="272.1" cy="996" r="7.5" fill="#0cbdf4"/><circle cx="286" cy="991.3" r="7.5" fill="#f20606"/><path d="M291.4 981.5L301.5 999L281.3 999Z" fill="#068f0c"/><circle cx="281.3" cy="1003.7" r="7.5" fill="#068f0c"/><path d="M286.7 1000.8L296.8 1018.3L276.6 1018.3Z" fill="#0707a0"/><circle cx="302.1" cy="1010.6" r="7.5" fill="#0cbdf4"/><path d="M316.8 992.3L326.9 1009.8L306.7 1009.8Z" fill="#068f0c"/><path d="M325.3 996.3L335.4 1013.8L315.2 1013.8Z" fill="#0cbdf4"/><circle cx="333" cy="993.7" r="7.5" fill="#068f0c"/><path d="M376.6 980.3L386.7 997.8L366.5 997.8Z" fill="#0cbdf4"/><circle cx="356.1" cy="1005.2" r="7.5" fill="#0cbdf4"/><circle cx="336.5" cy="1023" r="7.5" fill="#f20606"/><path d="M369.2 1003.3L379.3 1020.8L359.1 1020.8Z" fill="#068f0c"/><circle cx="380" cy="1019.9" r="7.5" fill="#f20606"/><circle cx="386.2" cy="1020.6" r="7.5" fill="#f20606"/><path d="M392.3 1019.3L402.4 1036.8L382.2 1036.8Z" fill="#068f0c"/><path d="M397 1018.3L407.1 1035.8L386.9 1035.8Z" fill="#0cbdf4"/><path d="M255.1 1005.3L265.2 1022.8L245 1022.8Z" fill="#068f0c"/><path d="M259.8 1008.3L269.9 1025.8L249.7 1025.8Z" fill="#f20606"/><path d="M267.5 1016.3L277.6 1033.8L257.4 1033.8Z" fill="#f20606"/><path d="M241.3 1025.6L251.4 1043.1L231.2 1043.1Z" fill="#f20606"/><path d="M347.9 1029.7L358 1047.2L337.8 1047.2Z" fill="#0cbdf4"/><path d="M236.6 1070.6L246.7 1088.1L226.5 1088.1Z" fill="#0cbdf4"/><path d="M176.5 1102.6L186.6 1120.1L166.4 1120.1Z" fill="#0707a0"/><path d="M191.2 1109.1L201.3 1126.6L181.1 1126.6Z" fill="#0707a0"/><circle cx="563.4" cy="973.5" r="7.5" fill="#f20606"/><circle cx="598.8" cy="969.5" r="7.5" fill="#f20606"/><circle cx="567" cy="991.8" r="7.5" fill="#f20606"/><circle cx="508.8" cy="982.9" r="7.5" fill="#0cbdf4"/><path d="M522.6 978.3L532.7 995.8L512.5 995.8Z" fill="#0cbdf4"/><circle cx="492" cy="1004.1" r="7.5" fill="#0cbdf4"/><path d="M482.5 999.3L492.6 1016.8L472.4 1016.8Z" fill="#0cbdf4"/><circle cx="620" cy="1012" r="7.5" fill="#0cbdf4"/><circle cx="425.7" cy="1013.5" r="7.5" fill="#0cbdf4"/><circle cx="459" cy="1013.5" r="7.5" fill="#f20606"/><path d="M462.1 1006.3L472.2 1023.8L452 1023.8Z" fill="#068f0c"/><circle cx="469.2" cy="1017.4" r="7.5" fill="#f20606"/><path d="M400.9 1021.3L411 1038.8L390.8 1038.8Z" fill="#0cbdf4"/><path d="M166.4 891L166.8 892.3L167.2 893.6L167.6 894.9L168 896.2L168.4 897.5L168.9 898.8L169.3 900.1L169.8 901.4L170.3 902.7L170.8 904L171.4 905.3L171.9 906.6L172.5 907.9L173.1 909.2L173.8 910.5L174.4 911.8L175.1 913.1L175.8 914.4L176.6 915.7L177.3 916.9L178.1 918.2L179 919.5L179.8 920.8L180.7 922.1L181.7 923.4L182.7 924.7L183.7 926L184.7 927.3L185.8 928.6L187 929.9L188.2 931.2L189.4 932.5L190.7 933.8L192 935.1L193.4 936.4L194.8 937.7L196.3 939L197.9 940.3L199.5 941.6L201.2 942.9L203 944.2L204.8 945.4L206.7 946.7L208.7 948L210.7 949.3L212.9 950.6L215.1 951.9L217.4 953.2L219.8 954.5L222.3 955.8L224.9 957.1L227.6 958.4L230.4 959.7L233.3 961L236.4 962.3L239.5 963.6L242.8 964.9L246.3 966.2L249.8 967.5L253.5 968.8L257.4 970.1L259.4 970.7L261.4 971.4L263.5 972L265.6 972.7L267.8 973.3L270 974L272.2 974.6L274.5 975.3L276.9 975.9L279.3 976.6L281.7 977.3L284.2 977.9L286.7 978.6L289.3 979.2L292 979.9L294.7 980.5L297.4 981.2L300.2 981.8L303.1 982.5L306 983.1L309 983.8L312 984.5L315.1 985.1L318.3 985.8L321.5 986.4L324.8 987.1L328.1 987.7L331.5 988.4L335 989L338.6 989.7L342.2 990.3L345.9 991L349.7 991.6L353.5 992.3L357.4 993L361.4 993.6L365.5 994.3L369.7 994.9L373.9 995.6L378.3 996.2L382.7 996.9L387.2 997.5L391.8 998.2L396.5 998.8L401.3 999.5L406.1 1000.1L411.1 1000.8L416.2 1001.5L421.4 1002.1L426.6 1002.8L432 1003.4L437.5 1004.1L443.1 1004.7L448.8 1005.4L454.7 1006L460.6 1006.7L466.7 1007.3L472.9 1008L479.2 1008.7L485.6 1009.3L492.2 1010L498.9 1010.6L505.7 1011.3L512.7 1011.9L519.8 1012.6L527 1013.2L534.4 1013.9L542 1014.5L549.7 1015.2L557.5 1015.8L565.5 1016.5L573.7 1017.2L582 1017.8L590.5 1018.5L599.2 1019.1L608 1019.8L617 1020.4L626.2 1021.1L635.6 1021.7L645.2 1022.4L654.9 1023L664.9 1023.7" fill="none" stroke="#000" stroke-width="6.4" stroke-linejoin="round" stroke-linecap="round"/></g><rect x="138.3" y="637.3" width="519.7" height="502.2" fill="none" stroke="#000" stroke-width="2.8"/><path d="M157.3 1139.5V1159M253.6 1139.5V1159M349.9 1139.5V1159M446.1 1139.5V1159M542.4 1139.5V1159M638.7 1139.5V1159M138.3 1125.4H118.8M138.3 1039.1H118.8M138.3 952.7H118.8M138.3 866.4H118.8M138.3 780H118.8M138.3 693.7H118.8" stroke="#000" stroke-width="2.8" fill="none"/><text x="157.3" y="1191.5" font-size="40.0" text-anchor="middle">0.00</text><text x="349.9" y="1191.5" font-size="40.0" text-anchor="middle">0.04</text><text x="542.4" y="1191.5" font-size="40.0" text-anchor="middle">0.08</text><text transform="translate(108.4 1125.4) rotate(-90)" font-size="40.0" text-anchor="middle">−2e−05</text><text transform="translate(108.4 952.7) rotate(-90)" font-size="40.0" text-anchor="middle">2e−05</text><text transform="translate(108.4 780) rotate(-90)" font-size="40.0" text-anchor="middle">6e−05</text><text x="641.6" y="699.5" font-size="55" font-weight="bold" text-anchor="end">Cr</text><text x="478.3" y="743.6" font-size="40.0">R</text><text x="504.9" y="731.7" font-size="26.9">2</text><text x="523.9" y="743.6" font-size="40.0">=</text><text x="555.1" y="743.6" font-size="40.0">0.13*</text></g><g><clipPath id="cMn"><rect x="769.5" y="637.3" width="519.7" height="502.2"/></clipPath><g clip-path="url(#cMn)"><circle cx="798" cy="655.8" r="7.5" fill="#0707a0"/><circle cx="818.6" cy="851.2" r="7.5" fill="#0707a0"/><circle cx="844.5" cy="853.6" r="7.5" fill="#0707a0"/><circle cx="880.7" cy="856.6" r="7.5" fill="#0707a0"/><circle cx="818.6" cy="865.1" r="7.5" fill="#068f0c"/><circle cx="842.2" cy="874.4" r="7.5" fill="#0707a0"/><circle cx="840" cy="881.3" r="7.5" fill="#0707a0"/><path d="M842 883.3L852.1 900.8L831.9 900.8Z" fill="#0707a0"/><circle cx="863.3" cy="906.6" r="7.5" fill="#0707a0"/><circle cx="823.3" cy="917.4" r="7.5" fill="#0cbdf4"/><circle cx="845.6" cy="925.8" r="7.5" fill="#0707a0"/><path d="M807.3 933.7L817.4 951.2L797.2 951.2Z" fill="#0707a0"/><path d="M822.6 929L832.7 946.5L812.5 946.5Z" fill="#0707a0"/><path d="M918.5 928.3L928.6 945.8L908.4 945.8Z" fill="#0cbdf4"/><circle cx="881.2" cy="951.3" r="7.5" fill="#068f0c"/><circle cx="829.9" cy="958" r="7.5" fill="#068f0c"/><path d="M835.3 951.8L845.4 969.3L825.2 969.3Z" fill="#0707a0"/><path d="M841.4 955.3L851.5 972.8L831.3 972.8Z" fill="#0707a0"/><circle cx="830.7" cy="980.4" r="7.5" fill="#068f0c"/><path d="M845 974.3L855.1 991.8L834.9 991.8Z" fill="#0707a0"/><circle cx="865.3" cy="988.3" r="7.5" fill="#068f0c"/><path d="M918.2 982.7L928.3 1000.2L908.1 1000.2Z" fill="#0707a0"/><path d="M898.5 990.4L908.6 1007.9L888.4 1007.9Z" fill="#f20606"/><circle cx="934.2" cy="1016.8" r="7.5" fill="#068f0c"/><path d="M841.4 1007.4L851.5 1024.9L831.3 1024.9Z" fill="#0cbdf4"/><circle cx="868.4" cy="1029.1" r="7.5" fill="#0707a0"/><path d="M870 1020.5L880.1 1038L859.9 1038Z" fill="#068f0c"/><circle cx="933.9" cy="1035.3" r="7.5" fill="#0707a0"/><path d="M978.9 1016.6L989 1034.1L968.8 1034.1Z" fill="#0cbdf4"/><path d="M1007.9 1029.7L1018 1047.2L997.8 1047.2Z" fill="#0cbdf4"/><path d="M855.3 1028.6L865.4 1046.1L845.2 1046.1Z" fill="#f20606"/><path d="M846.1 1034.9L856.2 1052.4L836 1052.4Z" fill="#0707a0"/><path d="M836 1041.8L846.1 1059.3L825.9 1059.3Z" fill="#f20606"/><circle cx="903.1" cy="1045.3" r="7.5" fill="#0cbdf4"/><path d="M922.4 1039L932.5 1056.5L912.3 1056.5Z" fill="#068f0c"/><path d="M886.1 1044.7L896.2 1062.2L876 1062.2Z" fill="#068f0c"/><circle cx="891.5" cy="1057.6" r="7.5" fill="#068f0c"/><circle cx="910" cy="1067.6" r="7.5" fill="#f20606"/><circle cx="912.3" cy="1075.4" r="7.5" fill="#068f0c"/><circle cx="932.4" cy="1069.2" r="7.5" fill="#0cbdf4"/><path d="M937.8 1063.8L947.9 1081.3L927.7 1081.3Z" fill="#068f0c"/><path d="M956.3 1057.3L966.4 1074.8L946.2 1074.8Z" fill="#0cbdf4"/><circle cx="967.5" cy="1065.3" r="7.5" fill="#f20606"/><circle cx="987.1" cy="1069.2" r="7.5" fill="#0cbdf4"/><path d="M1000.2 1061.3L1010.3 1078.8L990.1 1078.8Z" fill="#068f0c"/><circle cx="962.4" cy="1054.5" r="7.5" fill="#068f0c"/><path d="M1021.8 1054.3L1031.9 1071.8L1011.7 1071.8Z" fill="#068f0c"/><path d="M1028 1049.3L1038.1 1066.8L1017.9 1066.8Z" fill="#0cbdf4"/><path d="M846.1 1063.8L856.2 1081.3L836 1081.3Z" fill="#f20606"/><path d="M867.6 1065.3L877.7 1082.8L857.5 1082.8Z" fill="#0cbdf4"/><path d="M815.2 1079.8L825.3 1097.3L805.1 1097.3Z" fill="#0707a0"/><path d="M825.3 1079.8L835.4 1097.3L815.2 1097.3Z" fill="#0707a0"/><path d="M833.7 1086.3L843.8 1103.8L823.6 1103.8Z" fill="#0cbdf4"/><circle cx="839.1" cy="1103.9" r="7.5" fill="#0cbdf4"/><path d="M861.5 1088.3L871.6 1105.8L851.4 1105.8Z" fill="#f20606"/><path d="M873.8 1081.8L883.9 1099.3L863.7 1099.3Z" fill="#f20606"/><path d="M891.8 1077.6L901.9 1095.1L881.7 1095.1Z" fill="#068f0c"/><circle cx="919.3" cy="1097" r="7.5" fill="#f20606"/><path d="M948.6 1101.3L958.7 1118.8L938.5 1118.8Z" fill="#068f0c"/><circle cx="1011" cy="1103.1" r="7.5" fill="#f20606"/><circle cx="1016.4" cy="1109.3" r="7.5" fill="#f20606"/><path d="M891.5 1107.7L901.6 1125.2L881.4 1125.2Z" fill="#f20606"/><path d="M1032.1 1049.7L1042.2 1067.2L1022 1067.2Z" fill="#0cbdf4"/><path d="M1093.3 1036.4L1103.4 1053.9L1083.2 1053.9Z" fill="#068f0c"/><path d="M1094.1 1050.8L1104.2 1068.3L1084 1068.3Z" fill="#068f0c"/><circle cx="1123.2" cy="1035.5" r="7.5" fill="#0cbdf4"/><path d="M1153.8 1039.5L1163.9 1057L1143.7 1057Z" fill="#0cbdf4"/><circle cx="1139.7" cy="1068.5" r="7.5" fill="#0cbdf4"/><circle cx="1056.4" cy="1089.7" r="7.5" fill="#0cbdf4"/><path d="M1113 1075.7L1123.1 1093.2L1102.9 1093.2Z" fill="#0cbdf4"/><circle cx="1091" cy="1107.8" r="7.5" fill="#f20606"/><circle cx="1100.4" cy="1107" r="7.5" fill="#f20606"/><circle cx="1193.9" cy="1074.8" r="7.5" fill="#f20606"/><circle cx="1197.8" cy="1069.3" r="7.5" fill="#f20606"/><circle cx="1229.2" cy="1080.3" r="7.5" fill="#f20606"/><circle cx="1251.2" cy="1070.1" r="7.5" fill="#0cbdf4"/><path d="M797.6 879.4L798 881.7L798.4 883.9L798.8 886.2L799.2 888.5L799.6 890.8L800.1 893.1L800.5 895.3L801 897.6L801.5 899.9L802 902.2L802.6 904.5L803.1 906.7L803.7 909L804.3 911.3L805 913.6L805.6 915.9L806.3 918.1L807 920.4L807.8 922.7L808.5 925L809.3 927.2L810.2 929.5L811 931.8L811.9 934.1L812.9 936.4L813.9 938.6L814.9 940.9L815.9 943.2L817 945.5L818.2 947.8L819.4 950L820.6 952.3L821.9 954.6L823.2 956.9L824.6 959.2L826 961.4L827.5 963.7L829.1 966L830.7 968.3L832.4 970.6L834.2 972.8L836 975.1L837.9 977.4L839.9 979.7L841.9 981.9L844.1 984.2L846.3 986.5L848.6 988.8L851 991.1L853.5 993.3L856.1 995.6L858.8 997.9L861.6 1000.2L864.5 1002.5L867.6 1004.7L870.7 1007L874 1009.3L877.5 1011.6L881 1013.9L884.7 1016.1L888.6 1018.4L890.6 1019.6L892.6 1020.7L894.7 1021.9L896.8 1023L899 1024.2L901.2 1025.3L903.4 1026.5L905.7 1027.6L908.1 1028.8L910.5 1029.9L912.9 1031.1L915.4 1032.2L917.9 1033.4L920.5 1034.5L923.2 1035.7L925.9 1036.8L928.6 1038L931.4 1039.1L934.3 1040.3L937.2 1041.4L940.2 1042.6L943.2 1043.7L946.3 1044.9L949.5 1046L952.7 1047.2L956 1048.3L959.3 1049.5L962.7 1050.6L966.2 1051.8L969.8 1052.9L973.4 1054.1L977.1 1055.2L980.9 1056.4L984.7 1057.5L988.6 1058.7L992.6 1059.8L996.7 1061L1000.9 1062.1L1005.1 1063.3L1009.5 1064.4L1013.9 1065.6L1018.4 1066.7L1023 1067.9L1027.7 1069L1032.5 1070.2L1037.3 1071.3L1042.3 1072.5L1047.4 1073.6L1052.6 1074.8L1057.8 1076L1063.2 1077.1L1068.7 1078.3L1074.3 1079.4L1080 1080.6L1085.9 1081.7L1091.8 1082.9L1097.9 1084L1104.1 1085.2L1110.4 1086.3L1116.8 1087.5L1123.4 1088.6L1130.1 1089.8L1136.9 1090.9L1143.9 1092.1L1151 1093.2L1158.2 1094.4L1165.6 1095.5L1173.2 1096.7L1180.9 1097.8L1188.7 1099L1196.7 1100.1L1204.9 1101.3L1213.2 1102.4L1221.7 1103.6L1230.4 1104.7L1239.2 1105.9L1248.2 1107L1257.4 1108.2L1266.8 1109.3L1276.4 1110.5L1286.1 1111.6L1296.1 1112.8" fill="none" stroke="#000" stroke-width="6.4" stroke-linejoin="round" stroke-linecap="round"/></g><rect x="769.5" y="637.3" width="519.7" height="502.2" fill="none" stroke="#000" stroke-width="2.8"/><path d="M788.5 1139.5V1159M884.8 1139.5V1159M981.1 1139.5V1159M1077.3 1139.5V1159M1173.6 1139.5V1159M1269.9 1139.5V1159M769.5 1129.1H750M769.5 1046H750M769.5 962.9H750M769.5 879.9H750M769.5 796.8H750M769.5 713.7H750" stroke="#000" stroke-width="2.8" fill="none"/><text x="788.5" y="1191.5" font-size="40.0" text-anchor="middle">0.00</text><text x="981.1" y="1191.5" font-size="40.0" text-anchor="middle">0.04</text><text x="1173.6" y="1191.5" font-size="40.0" text-anchor="middle">0.08</text><text transform="translate(739.6 1129.1) rotate(-90)" font-size="40.0" text-anchor="middle">0e+00</text><text transform="translate(739.6 962.9) rotate(-90)" font-size="40.0" text-anchor="middle">2e−03</text><text transform="translate(739.6 796.8) rotate(-90)" font-size="40.0" text-anchor="middle">4e−03</text><text x="1279" y="700.1" font-size="55" font-weight="bold" text-anchor="end">Mn</text><text x="1108.3" y="747.2" font-size="40.0">R</text><text x="1134.9" y="735.3" font-size="26.9">2</text><text x="1153.9" y="747.2" font-size="40.0">=</text><text x="1185.1" y="747.2" font-size="40.0">0.37*</text></g><g><clipPath id="cFe"><rect x="1400.4" y="637.3" width="519.7" height="502.2"/></clipPath><g clip-path="url(#cFe)"><circle cx="1429" cy="655.8" r="7.5" fill="#0707a0"/><circle cx="1512.2" cy="827.4" r="7.5" fill="#068f0c"/><circle cx="1449.6" cy="850.9" r="7.5" fill="#068f0c"/><circle cx="1473.2" cy="862.8" r="7.5" fill="#0707a0"/><circle cx="1462.9" cy="869" r="7.5" fill="#068f0c"/><circle cx="1475.5" cy="894.5" r="7.5" fill="#0707a0"/><circle cx="1461.3" cy="909.4" r="7.5" fill="#068f0c"/><circle cx="1494.3" cy="911.5" r="7.5" fill="#0707a0"/><circle cx="1464.7" cy="931.2" r="7.5" fill="#068f0c"/><circle cx="1476.6" cy="928.2" r="7.5" fill="#0707a0"/><circle cx="1454.7" cy="950.5" r="7.5" fill="#0cbdf4"/><circle cx="1496.3" cy="968.2" r="7.5" fill="#068f0c"/><circle cx="1541" cy="969" r="7.5" fill="#f20606"/><circle cx="1564.9" cy="972.1" r="7.5" fill="#068f0c"/><circle cx="1447.8" cy="978.2" r="7.5" fill="#0707a0"/><path d="M1450.9 970.3L1461 987.8L1440.8 987.8Z" fill="#0707a0"/><circle cx="1470.1" cy="988.3" r="7.5" fill="#0707a0"/><path d="M1478.6 977L1488.7 994.5L1468.5 994.5Z" fill="#f20606"/><circle cx="1511.7" cy="988" r="7.5" fill="#0707a0"/><path d="M1638.9 1003.5L1649 1021L1628.8 1021Z" fill="#0cbdf4"/><path d="M1467 1007.4L1477.1 1024.9L1456.9 1024.9Z" fill="#f20606"/><path d="M1471.7 1022.3L1481.8 1039.8L1461.6 1039.8Z" fill="#0707a0"/><path d="M1478 1026.3L1488.1 1043.8L1467.9 1043.8Z" fill="#0707a0"/><path d="M1485.5 1018.5L1495.6 1036L1475.4 1036Z" fill="#f20606"/><circle cx="1499.9" cy="1033.7" r="7.5" fill="#0707a0"/><circle cx="1564.6" cy="1028" r="7.5" fill="#0707a0"/><circle cx="1595" cy="1033.7" r="7.5" fill="#068f0c"/><path d="M1438.5 1035.9L1448.6 1053.4L1428.4 1053.4Z" fill="#0707a0"/><circle cx="1521.8" cy="1042.2" r="7.5" fill="#068f0c"/><circle cx="1534.1" cy="1034.5" r="7.5" fill="#0cbdf4"/><path d="M1527.9 1039.3L1538 1056.8L1517.8 1056.8Z" fill="#f20606"/><circle cx="1549.5" cy="1045.3" r="7.5" fill="#f20606"/><circle cx="1541.8" cy="1052.2" r="7.5" fill="#068f0c"/><path d="M1465.5 1045.2L1475.6 1062.7L1455.4 1062.7Z" fill="#0cbdf4"/><path d="M1470.9 1051.3L1481 1068.8L1460.8 1068.8Z" fill="#0cbdf4"/><path d="M1477.8 1055.9L1487.9 1073.4L1467.7 1073.4Z" fill="#0707a0"/><path d="M1493.2 1047.1L1503.3 1064.6L1483.1 1064.6Z" fill="#f20606"/><path d="M1504 1047.6L1514.1 1065.1L1493.9 1065.1Z" fill="#f20606"/><path d="M1501 1057.3L1511.1 1074.8L1490.9 1074.8Z" fill="#068f0c"/><path d="M1498.6 1063.3L1508.7 1080.8L1488.5 1080.8Z" fill="#0cbdf4"/><path d="M1548.7 1046.3L1558.8 1063.8L1538.6 1063.8Z" fill="#0cbdf4"/><circle cx="1564.6" cy="1067.6" r="7.5" fill="#0cbdf4"/><path d="M1548.7 1065.3L1558.8 1082.8L1538.6 1082.8Z" fill="#0707a0"/><path d="M1553.4 1074.4L1563.5 1091.9L1543.3 1091.9Z" fill="#068f0c"/><circle cx="1598.8" cy="1078.4" r="7.5" fill="#f20606"/><circle cx="1618.1" cy="1070.7" r="7.5" fill="#0cbdf4"/><path d="M1517.1 1072.1L1527.2 1089.6L1507 1089.6Z" fill="#068f0c"/><path d="M1522.8 1084.8L1532.9 1102.3L1512.7 1102.3Z" fill="#068f0c"/><circle cx="1470.1" cy="1084.6" r="7.5" fill="#0cbdf4"/><path d="M1477.1 1079.1L1487.2 1096.6L1467 1096.6Z" fill="#0707a0"/><path d="M1457 1086.8L1467.1 1104.3L1446.9 1104.3Z" fill="#0707a0"/><path d="M1446.2 1095.3L1456.3 1112.8L1436.1 1112.8Z" fill="#0707a0"/><path d="M1568.8 1088.3L1578.9 1105.8L1558.7 1105.8Z" fill="#068f0c"/><path d="M1579.6 1089.3L1589.7 1106.8L1569.5 1106.8Z" fill="#068f0c"/><path d="M1588 1085.5L1598.1 1103L1577.9 1103Z" fill="#0cbdf4"/><path d="M1610.4 1088L1620.5 1105.5L1600.3 1105.5Z" fill="#0cbdf4"/><path d="M1632 1088L1642.1 1105.5L1621.9 1105.5Z" fill="#068f0c"/><circle cx="1642.8" cy="1088.5" r="7.5" fill="#f20606"/><circle cx="1648.1" cy="1090" r="7.5" fill="#f20606"/><path d="M1652.8 1087.8L1662.9 1105.3L1642.7 1105.3Z" fill="#068f0c"/><path d="M1522.5 1109.4L1532.6 1126.9L1512.4 1126.9Z" fill="#f20606"/><circle cx="1825.4" cy="992.8" r="7.5" fill="#f20606"/><circle cx="1829" cy="1019.5" r="7.5" fill="#f20606"/><circle cx="1860.8" cy="1041.8" r="7.5" fill="#f20606"/><circle cx="1754" cy="1057.8" r="7.5" fill="#0cbdf4"/><circle cx="1770.9" cy="1059.4" r="7.5" fill="#0cbdf4"/><circle cx="1688" cy="1066.9" r="7.5" fill="#0cbdf4"/><circle cx="1732" cy="1072.9" r="7.5" fill="#f20606"/><circle cx="1719.4" cy="1081.9" r="7.5" fill="#f20606"/><path d="M1724.9 1078L1735 1095.5L1714.8 1095.5Z" fill="#068f0c"/><path d="M1743.8 1083.3L1753.9 1100.8L1733.7 1100.8Z" fill="#0cbdf4"/><path d="M1784.6 1075.7L1794.7 1093.2L1774.5 1093.2Z" fill="#0cbdf4"/><circle cx="1882" cy="1084.2" r="7.5" fill="#0cbdf4"/><path d="M1662.9 1085.3L1673 1102.8L1652.8 1102.8Z" fill="#0cbdf4"/><path d="M1428.5 916L1428.9 917.8L1429.3 919.6L1429.7 921.4L1430.1 923.2L1430.5 925L1431 926.8L1431.4 928.7L1431.9 930.5L1432.4 932.3L1432.9 934.1L1433.5 935.9L1434 937.7L1434.6 939.5L1435.2 941.3L1435.9 943.1L1436.5 944.9L1437.2 946.8L1437.9 948.6L1438.7 950.4L1439.4 952.2L1440.2 954L1441.1 955.8L1441.9 957.6L1442.8 959.4L1443.8 961.2L1444.8 963L1445.8 964.9L1446.8 966.7L1447.9 968.5L1449.1 970.3L1450.3 972.1L1451.5 973.9L1452.8 975.7L1454.1 977.5L1455.5 979.3L1456.9 981.1L1458.4 982.9L1460 984.8L1461.6 986.6L1463.3 988.4L1465.1 990.2L1466.9 992L1468.8 993.8L1470.8 995.6L1472.8 997.4L1475 999.2L1477.2 1001L1479.5 1002.9L1481.9 1004.7L1484.4 1006.5L1487 1008.3L1489.7 1010.1L1492.5 1011.9L1495.4 1013.7L1498.5 1015.5L1501.6 1017.3L1504.9 1019.1L1508.4 1021L1511.9 1022.8L1515.6 1024.6L1519.5 1026.4L1521.5 1027.3L1523.5 1028.2L1525.6 1029.1L1527.7 1030L1529.9 1030.9L1532.1 1031.9L1534.3 1032.8L1536.6 1033.7L1539 1034.6L1541.4 1035.5L1543.8 1036.4L1546.3 1037.3L1548.8 1038.3L1551.4 1039.2L1554.1 1040.1L1556.8 1041L1559.5 1041.9L1562.3 1042.8L1565.2 1043.7L1568.1 1044.7L1571.1 1045.6L1574.1 1046.5L1577.2 1047.4L1580.4 1048.3L1583.6 1049.2L1586.9 1050.1L1590.2 1051L1593.6 1052L1597.1 1052.9L1600.7 1053.8L1604.3 1054.7L1608 1055.6L1611.8 1056.5L1615.6 1057.4L1619.5 1058.4L1623.5 1059.3L1627.6 1060.2L1631.8 1061.1L1636 1062L1640.4 1062.9L1644.8 1063.8L1649.3 1064.8L1653.9 1065.7L1658.6 1066.6L1663.4 1067.5L1668.2 1068.4L1673.2 1069.3L1678.3 1070.2L1683.5 1071.2L1688.7 1072.1L1694.1 1073L1699.6 1073.9L1705.2 1074.8L1710.9 1075.7L1716.8 1076.6L1722.7 1077.5L1728.8 1078.5L1735 1079.4L1741.3 1080.3L1747.7 1081.2L1754.3 1082.1L1761 1083L1767.8 1083.9L1774.8 1084.9L1781.9 1085.8L1789.1 1086.7L1796.5 1087.6L1804.1 1088.5L1811.8 1089.4L1819.6 1090.3L1827.6 1091.3L1835.8 1092.2L1844.1 1093.1L1852.6 1094L1861.3 1094.9L1870.1 1095.8L1879.1 1096.7L1888.3 1097.6L1897.7 1098.6L1907.3 1099.5L1917 1100.4L1927 1101.3" fill="none" stroke="#000" stroke-width="6.4" stroke-linejoin="round" stroke-linecap="round"/></g><rect x="1400.4" y="637.3" width="519.7" height="502.2" fill="none" stroke="#000" stroke-width="2.8"/><path d="M1419.4 1139.5V1159M1515.7 1139.5V1159M1612 1139.5V1159M1708.2 1139.5V1159M1804.5 1139.5V1159M1900.8 1139.5V1159M1400.4 1062.7H1380.9M1400.4 983.3H1380.9M1400.4 904H1380.9M1400.4 824.6H1380.9M1400.4 745.3H1380.9M1400.4 665.9H1380.9" stroke="#000" stroke-width="2.8" fill="none"/><text x="1419.4" y="1191.5" font-size="40.0" text-anchor="middle">0.00</text><text x="1612" y="1191.5" font-size="40.0" text-anchor="middle">0.04</text><text x="1804.5" y="1191.5" font-size="40.0" text-anchor="middle">0.08</text><text transform="translate(1370.5 1062.7) rotate(-90)" font-size="40.0" text-anchor="middle">0.005</text><text transform="translate(1370.5 904) rotate(-90)" font-size="40.0" text-anchor="middle">0.015</text><text transform="translate(1370.5 745.3) rotate(-90)" font-size="40.0" text-anchor="middle">0.025</text><text x="1901" y="702.5" font-size="55" font-weight="bold" text-anchor="end">Fe</text><text x="1742.4" y="742.6" font-size="40.0">R</text><text x="1769" y="730.7" font-size="26.9">2</text><text x="1788" y="742.6" font-size="40.0">=</text><text x="1819.2" y="742.6" font-size="40.0">0.25*</text></g><g><clipPath id="cCo"><rect x="138.3" y="1251.4" width="519.7" height="502.2"/></clipPath><g clip-path="url(#cCo)"><circle cx="167" cy="1269.8" r="7.5" fill="#0707a0"/><circle cx="187.6" cy="1269.8" r="7.5" fill="#068f0c"/><circle cx="201.2" cy="1294.9" r="7.5" fill="#068f0c"/><path d="M215.5 1347.2L225.6 1364.7L205.4 1364.7Z" fill="#0707a0"/><path d="M184.2 1383.4L194.3 1400.9L174.1 1400.9Z" fill="#0707a0"/><path d="M238.2 1385L248.3 1402.5L228.1 1402.5Z" fill="#068f0c"/><path d="M210.4 1405.5L220.5 1423L200.3 1423Z" fill="#0707a0"/><path d="M224.3 1416.5L234.4 1434L214.2 1434Z" fill="#f20606"/><path d="M260.8 1423.9L270.9 1441.4L250.7 1441.4Z" fill="#068f0c"/><circle cx="202.7" cy="1436.7" r="7.5" fill="#068f0c"/><circle cx="187.3" cy="1451.4" r="7.5" fill="#0707a0"/><circle cx="199.3" cy="1453.7" r="7.5" fill="#068f0c"/><circle cx="213.5" cy="1452.9" r="7.5" fill="#0707a0"/><circle cx="212.8" cy="1464.5" r="7.5" fill="#0707a0"/><circle cx="210.4" cy="1469.9" r="7.5" fill="#0707a0"/><circle cx="232.3" cy="1462.9" r="7.5" fill="#0707a0"/><circle cx="249.7" cy="1456.8" r="7.5" fill="#0707a0"/><circle cx="272.1" cy="1466.8" r="7.5" fill="#0cbdf4"/><path d="M306.8 1455.5L316.9 1473L296.7 1473Z" fill="#068f0c"/><path d="M291.4 1466.6L301.5 1484.1L281.3 1484.1Z" fill="#068f0c"/><path d="M266.7 1469.3L276.8 1486.8L256.6 1486.8Z" fill="#f20606"/><circle cx="279" cy="1489.9" r="7.5" fill="#f20606"/><circle cx="302.9" cy="1491.4" r="7.5" fill="#068f0c"/><circle cx="380" cy="1492.2" r="7.5" fill="#f20606"/><circle cx="333" cy="1499.9" r="7.5" fill="#068f0c"/><path d="M204.3 1475.3L214.4 1492.8L194.2 1492.8Z" fill="#0707a0"/><path d="M230.5 1476.7L240.6 1494.2L220.4 1494.2Z" fill="#f20606"/><path d="M215.8 1484.3L225.9 1501.8L205.7 1501.8Z" fill="#f20606"/><circle cx="208.5" cy="1503.3" r="7.5" fill="#0707a0"/><path d="M255.1 1488.3L265.2 1505.8L245 1505.8Z" fill="#068f0c"/><circle cx="259.8" cy="1508.9" r="7.5" fill="#068f0c"/><circle cx="302.9" cy="1507.6" r="7.5" fill="#0707a0"/><circle cx="356.1" cy="1506.1" r="7.5" fill="#0cbdf4"/><path d="M392.3 1493.3L402.4 1510.8L382.2 1510.8Z" fill="#068f0c"/><path d="M376.1 1496.3L386.2 1513.8L366 1513.8Z" fill="#0cbdf4"/><path d="M369.2 1497.3L379.3 1514.8L359.1 1514.8Z" fill="#068f0c"/><path d="M317.6 1498.3L327.7 1515.8L307.5 1515.8Z" fill="#068f0c"/><path d="M209.7 1506.7L219.8 1524.2L199.6 1524.2Z" fill="#0707a0"/><path d="M214.6 1520L224.7 1537.5L204.5 1537.5Z" fill="#0707a0"/><path d="M241.3 1502.6L251.4 1520.1L231.2 1520.1Z" fill="#f20606"/><path d="M259.8 1512.1L269.9 1529.6L249.7 1529.6Z" fill="#f20606"/><circle cx="278.3" cy="1514.3" r="7.5" fill="#068f0c"/><circle cx="287.5" cy="1516.6" r="7.5" fill="#f20606"/><path d="M286 1510.3L296.1 1527.8L275.9 1527.8Z" fill="#0cbdf4"/><circle cx="302.9" cy="1521.2" r="7.5" fill="#0cbdf4"/><path d="M326 1505.3L336.1 1522.8L315.9 1522.8Z" fill="#0cbdf4"/><path d="M313.7 1502.3L323.8 1519.8L303.6 1519.8Z" fill="#068f0c"/><circle cx="384.6" cy="1524.3" r="7.5" fill="#f20606"/><path d="M395.4 1516.3L405.5 1533.8L385.3 1533.8Z" fill="#0cbdf4"/><path d="M347.9 1528.8L358 1546.3L337.8 1546.3Z" fill="#0cbdf4"/><circle cx="336.5" cy="1556.3" r="7.5" fill="#f20606"/><circle cx="250.2" cy="1553.6" r="7.5" fill="#068f0c"/><path d="M210.1 1554.7L220.2 1572.2L200 1572.2Z" fill="#0cbdf4"/><path d="M236.6 1559.3L246.7 1576.8L226.5 1576.8Z" fill="#0cbdf4"/><circle cx="234.3" cy="1581.8" r="7.5" fill="#068f0c"/><path d="M191.2 1591.2L201.3 1608.7L181.1 1608.7Z" fill="#0707a0"/><path d="M205.5 1597.4L215.6 1614.9L195.4 1614.9Z" fill="#f20606"/><path d="M176.5 1604.3L186.6 1621.8L166.4 1621.8Z" fill="#0707a0"/><circle cx="237.9" cy="1627.6" r="7.5" fill="#0707a0"/><path d="M194.3 1626.6L204.4 1644.1L184.2 1644.1Z" fill="#0707a0"/><path d="M203.5 1639L213.6 1656.5L193.4 1656.5Z" fill="#0cbdf4"/><circle cx="208.1" cy="1725.4" r="7.5" fill="#0cbdf4"/><circle cx="192.3" cy="1734.7" r="7.5" fill="#0cbdf4"/><circle cx="425.2" cy="1500.2" r="7.5" fill="#0cbdf4"/><path d="M462.9 1497.6L473 1515.1L452.8 1515.1Z" fill="#068f0c"/><path d="M394.6 1496.3L404.7 1513.8L384.5 1513.8Z" fill="#068f0c"/><path d="M401.6 1517.3L411.7 1534.8L391.5 1534.8Z" fill="#0cbdf4"/><circle cx="459.8" cy="1523.7" r="7.5" fill="#f20606"/><circle cx="492" cy="1520.6" r="7.5" fill="#0cbdf4"/><path d="M522.6 1508.1L532.7 1525.6L512.5 1525.6Z" fill="#0cbdf4"/><circle cx="563.4" cy="1506.5" r="7.5" fill="#f20606"/><circle cx="566.6" cy="1519" r="7.5" fill="#f20606"/><circle cx="598.8" cy="1538.7" r="7.5" fill="#f20606"/><circle cx="620" cy="1523" r="7.5" fill="#0cbdf4"/><path d="M481.8 1527.3L491.9 1544.8L471.7 1544.8Z" fill="#0cbdf4"/><circle cx="469.7" cy="1555.2" r="7.5" fill="#f20606"/><circle cx="508.9" cy="1552" r="7.5" fill="#0cbdf4"/><path d="M166.4 1466.7L166.8 1467.3L167.2 1467.9L167.6 1468.5L168 1469.2L168.4 1469.8L168.9 1470.4L169.3 1471L169.8 1471.6L170.3 1472.2L170.8 1472.9L171.4 1473.5L171.9 1474.1L172.5 1474.7L173.1 1475.3L173.8 1475.9L174.4 1476.6L175.1 1477.2L175.8 1477.8L176.6 1478.4L177.3 1479L178.1 1479.6L179 1480.3L179.8 1480.9L180.7 1481.5L181.7 1482.1L182.7 1482.7L183.7 1483.3L184.7 1484L185.8 1484.6L187 1485.2L188.2 1485.8L189.4 1486.4L190.7 1487L192 1487.7L193.4 1488.3L194.8 1488.9L196.3 1489.5L197.9 1490.1L199.5 1490.7L201.2 1491.4L203 1492L204.8 1492.6L206.7 1493.2L208.7 1493.8L210.7 1494.4L212.9 1495.1L215.1 1495.7L217.4 1496.3L219.8 1496.9L222.3 1497.5L224.9 1498.1L227.6 1498.8L230.4 1499.4L233.3 1500L236.4 1500.6L239.5 1501.2L242.8 1501.8L246.3 1502.5L249.8 1503.1L253.5 1503.7L257.4 1504.3L259.4 1504.6L261.4 1504.9L263.5 1505.2L265.6 1505.6L267.8 1505.9L270 1506.2L272.2 1506.5L274.5 1506.8L276.9 1507.1L279.3 1507.4L281.7 1507.7L284.2 1508L286.7 1508.4L289.3 1508.7L292 1509L294.7 1509.3L297.4 1509.6L300.2 1509.9L303.1 1510.2L306 1510.5L309 1510.8L312 1511.2L315.1 1511.5L318.3 1511.8L321.5 1512.1L324.8 1512.4L328.1 1512.7L331.5 1513L335 1513.3L338.6 1513.6L342.2 1514L345.9 1514.3L349.7 1514.6L353.5 1514.9L357.4 1515.2L361.4 1515.5L365.5 1515.8L369.7 1516.1L373.9 1516.5L378.3 1516.8L382.7 1517.1L387.2 1517.4L391.8 1517.7L396.5 1518L401.3 1518.3L406.1 1518.6L411.1 1518.9L416.2 1519.3L421.4 1519.6L426.6 1519.9L432 1520.2L437.5 1520.5L443.1 1520.8L448.8 1521.1L454.7 1521.4L460.6 1521.7L466.7 1522.1L472.9 1522.4L479.2 1522.7L485.6 1523L492.2 1523.3L498.9 1523.6L505.7 1523.9L512.7 1524.2L519.8 1524.5L527 1524.9L534.4 1525.2L542 1525.5L549.7 1525.8L557.5 1526.1L565.5 1526.4L573.7 1526.7L582 1527L590.5 1527.3L599.2 1527.7L608 1528L617 1528.3L626.2 1528.6L635.6 1528.9L645.2 1529.2L654.9 1529.5L664.9 1529.8" fill="none" stroke="#000" stroke-width="6.4" stroke-linejoin="round" stroke-linecap="round"/></g><rect x="138.3" y="1251.4" width="519.7" height="502.2" fill="none" stroke="#000" stroke-width="2.8"/><path d="M157.3 1753.6V1773.1M253.6 1753.6V1773.1M349.9 1753.6V1773.1M446.1 1753.6V1773.1M542.4 1753.6V1773.1M638.7 1753.6V1773.1M138.3 1743.4H118.8M138.3 1650.4H118.8M138.3 1557.3H118.8M138.3 1464.2H118.8M138.3 1371.2H118.8M138.3 1278.1H118.8" stroke="#000" stroke-width="2.8" fill="none"/><text x="157.3" y="1805.6" font-size="40.0" text-anchor="middle">0.00</text><text x="349.9" y="1805.6" font-size="40.0" text-anchor="middle">0.04</text><text x="542.4" y="1805.6" font-size="40.0" text-anchor="middle">0.08</text><text transform="translate(108.4 1743.4) rotate(-90)" font-size="40.0" text-anchor="middle">−2e−05</text><text transform="translate(108.4 1557.3) rotate(-90)" font-size="40.0" text-anchor="middle">0e+00</text><text transform="translate(108.4 1371.2) rotate(-90)" font-size="40.0" text-anchor="middle">2e−05</text><text x="641.6" y="1312.3" font-size="55" font-weight="bold" text-anchor="end">Co</text><text x="489.5" y="1359.2" font-size="40.0">R</text><text x="516.1" y="1347.3" font-size="26.9">2</text><text x="535.1" y="1359.2" font-size="40.0">=</text><text x="566.3" y="1359.2" font-size="40.0">0.19</text></g><g><clipPath id="cNi"><rect x="769.5" y="1251.4" width="519.7" height="502.2"/></clipPath><g clip-path="url(#cNi)"><path d="M815.2 1257.8L825.3 1275.3L805.1 1275.3Z" fill="#0707a0"/><path d="M841.7 1394.7L851.8 1412.2L831.6 1412.2Z" fill="#0707a0"/><path d="M846.4 1432.4L856.5 1449.9L836.3 1449.9Z" fill="#0707a0"/><path d="M869.5 1452.5L879.6 1470L859.4 1470Z" fill="#068f0c"/><path d="M891.8 1472L901.9 1489.5L881.7 1489.5Z" fill="#068f0c"/><path d="M938.5 1504.1L948.6 1521.6L928.4 1521.6Z" fill="#068f0c"/><path d="M825.3 1514.6L835.4 1532.1L815.2 1532.1Z" fill="#0707a0"/><circle cx="829.9" cy="1535.1" r="7.5" fill="#068f0c"/><path d="M855.3 1525.4L865.4 1542.9L845.2 1542.9Z" fill="#f20606"/><path d="M922.4 1529.5L932.5 1547L912.3 1547Z" fill="#068f0c"/><circle cx="844.5" cy="1543.6" r="7.5" fill="#0707a0"/><path d="M861.5 1535.3L871.6 1552.8L851.4 1552.8Z" fill="#f20606"/><circle cx="881.2" cy="1552.8" r="7.5" fill="#068f0c"/><circle cx="910" cy="1554.3" r="7.5" fill="#f20606"/><circle cx="865.3" cy="1555.9" r="7.5" fill="#068f0c"/><path d="M918.5 1550.3L928.6 1567.8L908.4 1567.8Z" fill="#0cbdf4"/><circle cx="841.4" cy="1550.5" r="7.5" fill="#0707a0"/><circle cx="839.1" cy="1561.3" r="7.5" fill="#0707a0"/><circle cx="933.9" cy="1562.8" r="7.5" fill="#0707a0"/><path d="M948.6 1557.3L958.7 1574.8L938.5 1574.8Z" fill="#068f0c"/><path d="M891.5 1553.3L901.6 1570.8L881.4 1570.8Z" fill="#f20606"/><circle cx="967.8" cy="1569" r="7.5" fill="#f20606"/><circle cx="822.9" cy="1567.4" r="7.5" fill="#0cbdf4"/><circle cx="818.3" cy="1575.9" r="7.5" fill="#068f0c"/><circle cx="798" cy="1585.2" r="7.5" fill="#0707a0"/><circle cx="830.7" cy="1572.1" r="7.5" fill="#068f0c"/><circle cx="846.1" cy="1567.4" r="7.5" fill="#0707a0"/><circle cx="863.8" cy="1572.8" r="7.5" fill="#0707a0"/><circle cx="873.8" cy="1569" r="7.5" fill="#0707a0"/><path d="M846.1 1568.3L856.2 1585.8L836 1585.8Z" fill="#f20606"/><path d="M841.4 1572.3L851.5 1589.8L831.3 1589.8Z" fill="#0707a0"/><path d="M836 1575.3L846.1 1592.8L825.9 1592.8Z" fill="#f20606"/><path d="M834.5 1585.3L844.6 1602.8L824.4 1602.8Z" fill="#0cbdf4"/><circle cx="883" cy="1575.1" r="7.5" fill="#068f0c"/><circle cx="890" cy="1579" r="7.5" fill="#068f0c"/><circle cx="901.6" cy="1575.9" r="7.5" fill="#0cbdf4"/><circle cx="910.8" cy="1577.5" r="7.5" fill="#068f0c"/><circle cx="918.5" cy="1573.6" r="7.5" fill="#f20606"/><path d="M918.5 1573.3L928.6 1590.8L908.4 1590.8Z" fill="#0707a0"/><path d="M898.5 1577.3L908.6 1594.8L888.4 1594.8Z" fill="#f20606"/><circle cx="933.9" cy="1572.1" r="7.5" fill="#068f0c"/><path d="M954 1571.3L964.1 1588.8L943.9 1588.8Z" fill="#0cbdf4"/><circle cx="964" cy="1575.1" r="7.5" fill="#068f0c"/><circle cx="967.1" cy="1571.3" r="7.5" fill="#f20606"/><circle cx="987.1" cy="1578.2" r="7.5" fill="#0cbdf4"/><circle cx="998.7" cy="1577.5" r="7.5" fill="#068f0c"/><path d="M1003.3 1576.3L1013.4 1593.8L993.2 1593.8Z" fill="#0cbdf4"/><circle cx="1011.8" cy="1578.2" r="7.5" fill="#f20606"/><circle cx="1021.8" cy="1581.3" r="7.5" fill="#068f0c"/><path d="M1027.2 1576.3L1037.3 1593.8L1017.1 1593.8Z" fill="#0cbdf4"/><path d="M872.6 1590.4L882.7 1607.9L862.5 1607.9Z" fill="#f20606"/><path d="M978.9 1588.9L989 1606.4L968.8 1606.4Z" fill="#0cbdf4"/><path d="M867.6 1625.9L877.7 1643.4L857.5 1643.4Z" fill="#0cbdf4"/><path d="M822.6 1705.3L832.7 1722.8L812.5 1722.8Z" fill="#0707a0"/><path d="M807.5 1723.3L817.6 1740.8L797.4 1740.8Z" fill="#0707a0"/><path d="M1032.1 1574.3L1042.2 1591.8L1022 1591.8Z" fill="#0cbdf4"/><circle cx="1056.4" cy="1578" r="7.5" fill="#0cbdf4"/><circle cx="1091" cy="1574.1" r="7.5" fill="#f20606"/><circle cx="1100.4" cy="1574.1" r="7.5" fill="#f20606"/><path d="M1094.1 1573.3L1104.2 1590.8L1084 1590.8Z" fill="#068f0c"/><path d="M1093.3 1565.3L1103.4 1582.8L1083.2 1582.8Z" fill="#068f0c"/><path d="M1113 1560.3L1123.1 1577.8L1102.9 1577.8Z" fill="#0cbdf4"/><circle cx="1123.2" cy="1575.7" r="7.5" fill="#0cbdf4"/><circle cx="1140.5" cy="1571" r="7.5" fill="#0cbdf4"/><path d="M1153.8 1561.3L1163.9 1578.8L1143.7 1578.8Z" fill="#0cbdf4"/><circle cx="1195.4" cy="1568.6" r="7.5" fill="#f20606"/><circle cx="1197.8" cy="1574.1" r="7.5" fill="#f20606"/><circle cx="1230" cy="1574.9" r="7.5" fill="#f20606"/><circle cx="1251.2" cy="1580.4" r="7.5" fill="#0cbdf4"/><path d="M797.6 1549.8L798 1550L798.4 1550.2L798.8 1550.5L799.2 1550.7L799.6 1551L800.1 1551.2L800.5 1551.4L801 1551.7L801.5 1551.9L802 1552.2L802.6 1552.4L803.1 1552.6L803.7 1552.9L804.3 1553.1L805 1553.4L805.6 1553.6L806.3 1553.8L807 1554.1L807.8 1554.3L808.5 1554.6L809.3 1554.8L810.2 1555L811 1555.3L811.9 1555.5L812.9 1555.8L813.9 1556L814.9 1556.2L815.9 1556.5L817 1556.7L818.2 1557L819.4 1557.2L820.6 1557.4L821.9 1557.7L823.2 1557.9L824.6 1558.2L826 1558.4L827.5 1558.6L829.1 1558.9L830.7 1559.1L832.4 1559.4L834.2 1559.6L836 1559.8L837.9 1560.1L839.9 1560.3L841.9 1560.6L844.1 1560.8L846.3 1561L848.6 1561.3L851 1561.5L853.5 1561.8L856.1 1562L858.8 1562.2L861.6 1562.5L864.5 1562.7L867.6 1563L870.7 1563.2L874 1563.4L877.5 1563.7L881 1563.9L884.7 1564.2L888.6 1564.4L890.6 1564.5L892.6 1564.6L894.7 1564.8L896.8 1564.9L899 1565L901.2 1565.1L903.4 1565.2L905.7 1565.4L908.1 1565.5L910.5 1565.6L912.9 1565.7L915.4 1565.8L917.9 1566L920.5 1566.1L923.2 1566.2L925.9 1566.3L928.6 1566.5L931.4 1566.6L934.3 1566.7L937.2 1566.8L940.2 1566.9L943.2 1567.1L946.3 1567.2L949.5 1567.3L952.7 1567.4L956 1567.5L959.3 1567.7L962.7 1567.8L966.2 1567.9L969.8 1568L973.4 1568.2L977.1 1568.3L980.9 1568.4L984.7 1568.5L988.6 1568.6L992.6 1568.8L996.7 1568.9L1000.9 1569L1005.1 1569.1L1009.5 1569.2L1013.9 1569.4L1018.4 1569.5L1023 1569.6L1027.7 1569.7L1032.5 1569.8L1037.3 1570L1042.3 1570.1L1047.4 1570.2L1052.6 1570.3L1057.8 1570.5L1063.2 1570.6L1068.7 1570.7L1074.3 1570.8L1080 1570.9L1085.9 1571.1L1091.8 1571.2L1097.9 1571.3L1104.1 1571.4L1110.4 1571.5L1116.8 1571.7L1123.4 1571.8L1130.1 1571.9L1136.9 1572L1143.9 1572.2L1151 1572.3L1158.2 1572.4L1165.6 1572.5L1173.2 1572.6L1180.9 1572.8L1188.7 1572.9L1196.7 1573L1204.9 1573.1L1213.2 1573.2L1221.7 1573.4L1230.4 1573.5L1239.2 1573.6L1248.2 1573.7L1257.4 1573.8L1266.8 1574L1276.4 1574.1L1286.1 1574.2L1296.1 1574.3" fill="none" stroke="#000" stroke-width="6.4" stroke-linejoin="round" stroke-linecap="round"/></g><rect x="769.5" y="1251.4" width="519.7" height="502.2" fill="none" stroke="#000" stroke-width="2.8"/><path d="M788.5 1753.6V1773.1M884.8 1753.6V1773.1M981.1 1753.6V1773.1M1077.3 1753.6V1773.1M1173.6 1753.6V1773.1M1269.9 1753.6V1773.1M769.5 1697.1H750M769.5 1581.7H750M769.5 1466.3H750M769.5 1350.9H750" stroke="#000" stroke-width="2.8" fill="none"/><text x="788.5" y="1805.6" font-size="40.0" text-anchor="middle">0.00</text><text x="981.1" y="1805.6" font-size="40.0" text-anchor="middle">0.04</text><text x="1173.6" y="1805.6" font-size="40.0" text-anchor="middle">0.08</text><text transform="translate(739.6 1697.1) rotate(-90)" font-size="40.0" text-anchor="middle">−2e−04</text><text transform="translate(739.6 1466.3) rotate(-90)" font-size="40.0" text-anchor="middle">2e−04</text><text x="1266.4" y="1311.2" font-size="55" font-weight="bold" text-anchor="end">Ni</text><text x="1089.5" y="1354.9" font-size="40.0">R</text><text x="1116.1" y="1343" font-size="26.9">2</text><text x="1135.1" y="1354.9" font-size="40.0">=</text><text x="1166.3" y="1354.9" font-size="40.0">-0.003</text></g><g><clipPath id="cCu"><rect x="1400.4" y="1251.4" width="519.7" height="502.2"/></clipPath><g clip-path="url(#cCu)"><circle cx="1429" cy="1269.8" r="7.5" fill="#0707a0"/><path d="M1453.6 1279.8L1463.7 1297.3L1443.5 1297.3Z" fill="#0707a0"/><circle cx="1472.7" cy="1385.1" r="7.5" fill="#0707a0"/><path d="M1477.8 1433.2L1487.9 1450.7L1467.7 1450.7Z" fill="#0707a0"/><path d="M1466 1464.8L1476.1 1482.3L1455.9 1482.3Z" fill="#0cbdf4"/><circle cx="1449.6" cy="1488.4" r="7.5" fill="#0707a0"/><path d="M1466.3 1505.3L1476.4 1522.8L1456.2 1522.8Z" fill="#0707a0"/><path d="M1476.6 1526.3L1486.7 1543.8L1466.5 1543.8Z" fill="#0707a0"/><path d="M1472.4 1529.3L1482.5 1546.8L1462.3 1546.8Z" fill="#0cbdf4"/><path d="M1477.8 1528.5L1487.9 1546L1467.7 1546Z" fill="#f20606"/><circle cx="1512.2" cy="1544.6" r="7.5" fill="#068f0c"/><circle cx="1543.3" cy="1555.6" r="7.5" fill="#068f0c"/><circle cx="1463.2" cy="1553.6" r="7.5" fill="#068f0c"/><path d="M1471.7 1544.3L1481.8 1561.8L1461.6 1561.8Z" fill="#0707a0"/><circle cx="1475.5" cy="1560.5" r="7.5" fill="#0707a0"/><path d="M1493.2 1549.3L1503.3 1566.8L1483.1 1566.8Z" fill="#f20606"/><circle cx="1511.7" cy="1561" r="7.5" fill="#0707a0"/><path d="M1549.2 1563.1L1559.3 1580.6L1539.1 1580.6Z" fill="#0707a0"/><circle cx="1463.2" cy="1570.5" r="7.5" fill="#068f0c"/><circle cx="1449.6" cy="1579.5" r="7.5" fill="#068f0c"/><circle cx="1494.3" cy="1587.5" r="7.5" fill="#0707a0"/><circle cx="1564.6" cy="1592.9" r="7.5" fill="#0707a0"/><path d="M1456.7 1587L1466.8 1604.5L1446.6 1604.5Z" fill="#0707a0"/><path d="M1438.5 1603.5L1448.6 1621L1428.4 1621Z" fill="#0707a0"/><circle cx="1595" cy="1610.6" r="7.5" fill="#068f0c"/><path d="M1495.6 1606.3L1505.7 1623.8L1485.5 1623.8Z" fill="#0cbdf4"/><circle cx="1464" cy="1624.5" r="7.5" fill="#068f0c"/><path d="M1472.7 1617.4L1482.8 1634.9L1462.6 1634.9Z" fill="#0707a0"/><path d="M1501 1616.3L1511.1 1633.8L1490.9 1633.8Z" fill="#068f0c"/><path d="M1579.6 1629.4L1589.7 1646.9L1569.5 1646.9Z" fill="#068f0c"/><path d="M1609.9 1632L1620 1649.5L1599.8 1649.5Z" fill="#0cbdf4"/><path d="M1653.5 1634L1663.6 1651.5L1643.4 1651.5Z" fill="#068f0c"/><path d="M1467.5 1629.3L1477.6 1646.8L1457.4 1646.8Z" fill="#f20606"/><circle cx="1454.7" cy="1650.7" r="7.5" fill="#0cbdf4"/><path d="M1486.3 1651.3L1496.4 1668.8L1476.2 1668.8Z" fill="#f20606"/><circle cx="1495.6" cy="1656.1" r="7.5" fill="#068f0c"/><path d="M1503.6 1651.3L1513.7 1668.8L1493.5 1668.8Z" fill="#f20606"/><path d="M1522.8 1650.5L1532.9 1668L1512.7 1668Z" fill="#068f0c"/><circle cx="1470.1" cy="1661.5" r="7.5" fill="#0cbdf4"/><circle cx="1470.9" cy="1666.1" r="7.5" fill="#0707a0"/><path d="M1517.1 1661L1527.2 1678.5L1507 1678.5Z" fill="#068f0c"/><circle cx="1564.9" cy="1670.7" r="7.5" fill="#068f0c"/><path d="M1446.2 1671.8L1456.3 1689.3L1436.1 1689.3Z" fill="#0707a0"/><circle cx="1476.6" cy="1688.4" r="7.5" fill="#0707a0"/><circle cx="1499.9" cy="1686.1" r="7.5" fill="#0707a0"/><path d="M1529.2 1677.3L1539.3 1694.8L1519.1 1694.8Z" fill="#f20606"/><circle cx="1534.4" cy="1698.4" r="7.5" fill="#0cbdf4"/><path d="M1549.5 1678.3L1559.6 1695.8L1539.4 1695.8Z" fill="#0cbdf4"/><path d="M1551.8 1687.2L1561.9 1704.7L1541.7 1704.7Z" fill="#068f0c"/><circle cx="1564.1" cy="1699.2" r="7.5" fill="#0cbdf4"/><circle cx="1541" cy="1710.8" r="7.5" fill="#f20606"/><circle cx="1550.3" cy="1710" r="7.5" fill="#f20606"/><circle cx="1598.8" cy="1694.6" r="7.5" fill="#f20606"/><circle cx="1618.1" cy="1679.2" r="7.5" fill="#0cbdf4"/><path d="M1638.6 1668.3L1648.7 1685.8L1628.5 1685.8Z" fill="#0cbdf4"/><circle cx="1647.4" cy="1683" r="7.5" fill="#f20606"/><circle cx="1642.8" cy="1700.8" r="7.5" fill="#f20606"/><path d="M1657.4 1681.3L1667.5 1698.8L1647.3 1698.8Z" fill="#0cbdf4"/><path d="M1522.5 1718.3L1532.6 1735.8L1512.4 1735.8Z" fill="#f20606"/><path d="M1569.2 1716L1579.3 1733.5L1559.1 1733.5Z" fill="#068f0c"/><path d="M1588 1711.4L1598.1 1728.9L1577.9 1728.9Z" fill="#0cbdf4"/><path d="M1632 1723.3L1642.1 1740.8L1621.9 1740.8Z" fill="#068f0c"/><path d="M1724.9 1647.9L1735 1665.4L1714.8 1665.4Z" fill="#068f0c"/><path d="M1724.9 1682L1735 1699.5L1714.8 1699.5Z" fill="#068f0c"/><path d="M1743.8 1681.2L1753.9 1698.7L1733.7 1698.7Z" fill="#0cbdf4"/><path d="M1662.9 1681.3L1673 1698.8L1652.8 1698.8Z" fill="#0cbdf4"/><circle cx="1688" cy="1705.5" r="7.5" fill="#0cbdf4"/><circle cx="1722.5" cy="1704" r="7.5" fill="#f20606"/><circle cx="1732" cy="1707.1" r="7.5" fill="#f20606"/><circle cx="1754" cy="1714.1" r="7.5" fill="#0cbdf4"/><circle cx="1770.9" cy="1705.5" r="7.5" fill="#0cbdf4"/><path d="M1784.6 1723.3L1794.7 1740.8L1774.5 1740.8Z" fill="#0cbdf4"/><circle cx="1829" cy="1691.4" r="7.5" fill="#f20606"/><circle cx="1825.4" cy="1714.1" r="7.5" fill="#f20606"/><circle cx="1860.8" cy="1716.5" r="7.5" fill="#f20606"/><circle cx="1882" cy="1729.8" r="7.5" fill="#0cbdf4"/><path d="M1428.5 1456.4L1428.9 1459.2L1429.3 1462L1429.7 1464.8L1430.1 1467.6L1430.5 1470.4L1431 1473.2L1431.4 1476L1431.9 1478.8L1432.4 1481.6L1432.9 1484.4L1433.5 1487.2L1434 1490L1434.6 1492.8L1435.2 1495.6L1435.9 1498.4L1436.5 1501.2L1437.2 1504L1437.9 1506.8L1438.7 1509.6L1439.4 1512.4L1440.2 1515.3L1441.1 1518.1L1441.9 1520.9L1442.8 1523.7L1443.8 1526.5L1444.8 1529.3L1445.8 1532.1L1446.8 1534.9L1447.9 1537.7L1449.1 1540.5L1450.3 1543.3L1451.5 1546.1L1452.8 1548.9L1454.1 1551.7L1455.5 1554.5L1456.9 1557.3L1458.4 1560.1L1460 1562.9L1461.6 1565.7L1463.3 1568.5L1465.1 1571.3L1466.9 1574.1L1468.8 1576.9L1470.8 1579.7L1472.8 1582.5L1475 1585.3L1477.2 1588.1L1479.5 1590.9L1481.9 1593.7L1484.4 1596.5L1487 1599.3L1489.7 1602.1L1492.5 1604.9L1495.4 1607.7L1498.5 1610.5L1501.6 1613.3L1504.9 1616.1L1508.4 1618.9L1511.9 1621.7L1515.6 1624.5L1519.5 1627.3L1521.5 1628.8L1523.5 1630.2L1525.6 1631.6L1527.7 1633L1529.9 1634.4L1532.1 1635.8L1534.3 1637.2L1536.6 1638.7L1539 1640.1L1541.4 1641.5L1543.8 1642.9L1546.3 1644.3L1548.8 1645.7L1551.4 1647.2L1554.1 1648.6L1556.8 1650L1559.5 1651.4L1562.3 1652.8L1565.2 1654.2L1568.1 1655.6L1571.1 1657.1L1574.1 1658.5L1577.2 1659.9L1580.4 1661.3L1583.6 1662.7L1586.9 1664.1L1590.2 1665.5L1593.6 1667L1597.1 1668.4L1600.7 1669.8L1604.3 1671.2L1608 1672.6L1611.8 1674L1615.6 1675.4L1619.5 1676.9L1623.5 1678.3L1627.6 1679.7L1631.8 1681.1L1636 1682.5L1640.4 1683.9L1644.8 1685.4L1649.3 1686.8L1653.9 1688.2L1658.6 1689.6L1663.4 1691L1668.2 1692.4L1673.2 1693.8L1678.3 1695.3L1683.5 1696.7L1688.7 1698.1L1694.1 1699.5L1699.6 1700.9L1705.2 1702.3L1710.9 1703.7L1716.8 1705.2L1722.7 1706.6L1728.8 1708L1735 1709.4L1741.3 1710.8L1747.7 1712.2L1754.3 1713.7L1761 1715.1L1767.8 1716.5L1774.8 1717.9L1781.9 1719.3L1789.1 1720.7L1796.5 1722.1L1804.1 1723.6L1811.8 1725L1819.6 1726.4L1827.6 1727.8L1835.8 1729.2L1844.1 1730.6L1852.6 1732L1861.3 1733.5L1870.1 1734.9L1879.1 1736.3L1888.3 1737.7L1897.7 1739.1L1907.3 1740.5L1917 1741.9L1927 1743.4" fill="none" stroke="#000" stroke-width="6.4" stroke-linejoin="round" stroke-linecap="round"/></g><rect x="1400.4" y="1251.4" width="519.7" height="502.2" fill="none" stroke="#000" stroke-width="2.8"/><path d="M1419.4 1753.6V1773.1M1515.7 1753.6V1773.1M1612 1753.6V1773.1M1708.2 1753.6V1773.1M1804.5 1753.6V1773.1M1900.8 1753.6V1773.1M1400.4 1662.4H1380.9M1400.4 1567.3H1380.9M1400.4 1472.2H1380.9M1400.4 1377.2H1380.9M1400.4 1282.1H1380.9" stroke="#000" stroke-width="2.8" fill="none"/><text x="1419.4" y="1805.6" font-size="40.0" text-anchor="middle">0.00</text><text x="1612" y="1805.6" font-size="40.0" text-anchor="middle">0.04</text><text x="1804.5" y="1805.6" font-size="40.0" text-anchor="middle">0.08</text><text transform="translate(1370.5 1662.4) rotate(-90)" font-size="40.0" text-anchor="middle">2e−03</text><text transform="translate(1370.5 1472.2) rotate(-90)" font-size="40.0" text-anchor="middle">6e−03</text><text transform="translate(1370.5 1282.1) rotate(-90)" font-size="40.0" text-anchor="middle">1e−02</text><text x="1902.2" y="1312.2" font-size="55" font-weight="bold" text-anchor="end">Cu</text><text x="1733.1" y="1356.6" font-size="40.0">R</text><text x="1759.7" y="1344.7" font-size="26.9">2</text><text x="1778.7" y="1356.6" font-size="40.0">=</text><text x="1809.9" y="1356.6" font-size="40.0">0.44*</text></g><g><clipPath id="cZn"><rect x="138.3" y="1865.5" width="519.7" height="502.2"/></clipPath><g clip-path="url(#cZn)"><path d="M191.2 1871.8L201.3 1889.3L181.1 1889.3Z" fill="#0707a0"/><circle cx="167" cy="1991.7" r="7.5" fill="#0707a0"/><path d="M215.5 2078L225.6 2095.5L205.4 2095.5Z" fill="#f20606"/><path d="M203.5 2117.6L213.6 2135.1L193.4 2135.1Z" fill="#0cbdf4"/><path d="M204 2156.9L214.1 2174.4L193.9 2174.4Z" fill="#0707a0"/><circle cx="199.3" cy="2199.4" r="7.5" fill="#068f0c"/><path d="M209.7 2188.3L219.8 2205.8L199.6 2205.8Z" fill="#0707a0"/><circle cx="212" cy="2205.6" r="7.5" fill="#0707a0"/><circle cx="212" cy="2216.3" r="7.5" fill="#0707a0"/><path d="M176.5 2201.6L186.6 2219.1L166.4 2219.1Z" fill="#0707a0"/><circle cx="187.3" cy="2217.9" r="7.5" fill="#0707a0"/><path d="M218.1 2199.3L228.2 2216.8L208 2216.8Z" fill="#0707a0"/><circle cx="187.6" cy="2231" r="7.5" fill="#068f0c"/><path d="M204.3 2223.3L214.4 2240.8L194.2 2240.8Z" fill="#f20606"/><path d="M236.6 2221.6L246.7 2239.1L226.5 2239.1Z" fill="#0cbdf4"/><path d="M255.1 2224.7L265.2 2242.2L245 2242.2Z" fill="#068f0c"/><path d="M325.3 2213.6L335.4 2231.1L315.2 2231.1Z" fill="#0cbdf4"/><circle cx="250.2" cy="2247.2" r="7.5" fill="#0707a0"/><circle cx="200.4" cy="2252.6" r="7.5" fill="#068f0c"/><path d="M210.4 2246.3L220.5 2263.8L200.3 2263.8Z" fill="#0707a0"/><circle cx="210.4" cy="2261" r="7.5" fill="#0707a0"/><circle cx="232" cy="2254.9" r="7.5" fill="#0707a0"/><path d="M287.5 2244.4L297.6 2261.9L277.4 2261.9Z" fill="#0cbdf4"/><circle cx="192.3" cy="2266.4" r="7.5" fill="#0cbdf4"/><path d="M223.5 2263.3L233.6 2280.8L213.4 2280.8Z" fill="#f20606"/><path d="M241.6 2259.3L251.7 2276.8L231.5 2276.8Z" fill="#f20606"/><circle cx="249" cy="2261" r="7.5" fill="#068f0c"/><circle cx="234.3" cy="2274.2" r="7.5" fill="#068f0c"/><circle cx="302.6" cy="2271.8" r="7.5" fill="#0707a0"/><path d="M317.6 2266L327.7 2283.5L307.5 2283.5Z" fill="#068f0c"/><path d="M376.6 2262.3L386.7 2279.8L366.5 2279.8Z" fill="#0cbdf4"/><path d="M391.5 2258.3L401.6 2275.8L381.4 2275.8Z" fill="#068f0c"/><circle cx="202.7" cy="2280.3" r="7.5" fill="#068f0c"/><circle cx="207.4" cy="2287.2" r="7.5" fill="#0cbdf4"/><circle cx="214.3" cy="2295" r="7.5" fill="#0707a0"/><path d="M230.5 2271.3L240.6 2288.8L220.4 2288.8Z" fill="#f20606"/><path d="M287.5 2268.3L297.6 2285.8L277.4 2285.8Z" fill="#0707a0"/><circle cx="272.1" cy="2288" r="7.5" fill="#0cbdf4"/><circle cx="281.3" cy="2289.6" r="7.5" fill="#068f0c"/><path d="M260.8 2270.3L270.9 2287.8L250.7 2287.8Z" fill="#068f0c"/><circle cx="259.8" cy="2298" r="7.5" fill="#068f0c"/><path d="M267.2 2292.3L277.3 2309.8L257.1 2309.8Z" fill="#f20606"/><circle cx="278.6" cy="2304.2" r="7.5" fill="#f20606"/><path d="M291.4 2293.3L301.5 2310.8L281.3 2310.8Z" fill="#068f0c"/><circle cx="302.9" cy="2301.1" r="7.5" fill="#068f0c"/><path d="M347.9 2283.3L358 2300.8L337.8 2300.8Z" fill="#0cbdf4"/><circle cx="336.8" cy="2309.6" r="7.5" fill="#f20606"/><circle cx="333" cy="2315.8" r="7.5" fill="#068f0c"/><circle cx="356.1" cy="2310.4" r="7.5" fill="#0cbdf4"/><circle cx="380.8" cy="2301.1" r="7.5" fill="#f20606"/><circle cx="385.4" cy="2313.5" r="7.5" fill="#f20606"/><path d="M395.4 2283.3L405.5 2300.8L385.3 2300.8Z" fill="#0cbdf4"/><path d="M184.2 2293.7L194.3 2311.2L174.1 2311.2Z" fill="#0707a0"/><circle cx="237.9" cy="2313.5" r="7.5" fill="#0707a0"/><path d="M238.2 2295.6L248.3 2313.1L228.1 2313.1Z" fill="#068f0c"/><path d="M260.5 2319.9L270.6 2337.4L250.4 2337.4Z" fill="#f20606"/><circle cx="288.3" cy="2325.8" r="7.5" fill="#f20606"/><circle cx="302.1" cy="2330.4" r="7.5" fill="#0cbdf4"/><path d="M307.2 2337.2L317.3 2354.7L297.1 2354.7Z" fill="#068f0c"/><path d="M369.2 2320.7L379.3 2338.2L359.1 2338.2Z" fill="#068f0c"/><path d="M401.6 2284.4L411.7 2301.9L391.5 2301.9Z" fill="#0cbdf4"/><path d="M481.8 2266.4L491.9 2283.9L471.7 2283.9Z" fill="#0cbdf4"/><path d="M462.9 2293.1L473 2310.6L452.8 2310.6Z" fill="#068f0c"/><circle cx="469.7" cy="2309.5" r="7.5" fill="#f20606"/><circle cx="459.8" cy="2321.3" r="7.5" fill="#f20606"/><circle cx="492" cy="2317.4" r="7.5" fill="#0cbdf4"/><path d="M522.6 2301.3L532.7 2318.8L512.5 2318.8Z" fill="#0cbdf4"/><circle cx="563.4" cy="2317.4" r="7.5" fill="#f20606"/><circle cx="567.4" cy="2318.9" r="7.5" fill="#f20606"/><circle cx="598.8" cy="2337" r="7.5" fill="#f20606"/><circle cx="620" cy="2331.5" r="7.5" fill="#0cbdf4"/><circle cx="425.2" cy="2336.2" r="7.5" fill="#0cbdf4"/><circle cx="508.9" cy="2336.2" r="7.5" fill="#0cbdf4"/><path d="M166.4 2134.4L166.8 2136.5L167.2 2138.6L167.6 2140.7L168 2142.9L168.4 2145L168.9 2147.1L169.3 2149.2L169.8 2151.3L170.3 2153.4L170.8 2155.5L171.4 2157.6L171.9 2159.7L172.5 2161.9L173.1 2164L173.8 2166.1L174.4 2168.2L175.1 2170.3L175.8 2172.4L176.6 2174.5L177.3 2176.6L178.1 2178.7L179 2180.9L179.8 2183L180.7 2185.1L181.7 2187.2L182.7 2189.3L183.7 2191.4L184.7 2193.5L185.8 2195.6L187 2197.7L188.2 2199.9L189.4 2202L190.7 2204.1L192 2206.2L193.4 2208.3L194.8 2210.4L196.3 2212.5L197.9 2214.6L199.5 2216.7L201.2 2218.9L203 2221L204.8 2223.1L206.7 2225.2L208.7 2227.3L210.7 2229.4L212.9 2231.5L215.1 2233.6L217.4 2235.7L219.8 2237.9L222.3 2240L224.9 2242.1L227.6 2244.2L230.4 2246.3L233.3 2248.4L236.4 2250.5L239.5 2252.6L242.8 2254.7L246.3 2256.9L249.8 2259L253.5 2261.1L257.4 2263.2L259.4 2264.3L261.4 2265.3L263.5 2266.4L265.6 2267.5L267.8 2268.5L270 2269.6L272.2 2270.7L274.5 2271.7L276.9 2272.8L279.3 2273.9L281.7 2274.9L284.2 2276L286.7 2277.1L289.3 2278.1L292 2279.2L294.7 2280.2L297.4 2281.3L300.2 2282.4L303.1 2283.4L306 2284.5L309 2285.6L312 2286.6L315.1 2287.7L318.3 2288.8L321.5 2289.8L324.8 2290.9L328.1 2292L331.5 2293L335 2294.1L338.6 2295.2L342.2 2296.2L345.9 2297.3L349.7 2298.4L353.5 2299.4L357.4 2300.5L361.4 2301.6L365.5 2302.6L369.7 2303.7L373.9 2304.8L378.3 2305.8L382.7 2306.9L387.2 2308L391.8 2309L396.5 2310.1L401.3 2311.2L406.1 2312.2L411.1 2313.3L416.2 2314.4L421.4 2315.4L426.6 2316.5L432 2317.6L437.5 2318.6L443.1 2319.7L448.8 2320.8L454.7 2321.8L460.6 2322.9L466.7 2324L472.9 2325L479.2 2326.1L485.6 2327.2L492.2 2328.2L498.9 2329.3L505.7 2330.3L512.7 2331.4L519.8 2332.5L527 2333.5L534.4 2334.6L542 2335.7L549.7 2336.7L557.5 2337.8L565.5 2338.9L573.7 2339.9L582 2341L590.5 2342.1L599.2 2343.1L608 2344.2L617 2345.3L626.2 2346.3L635.6 2347.4L645.2 2348.5L654.9 2349.5L664.9 2350.6" fill="none" stroke="#000" stroke-width="6.4" stroke-linejoin="round" stroke-linecap="round"/></g><rect x="138.3" y="1865.5" width="519.7" height="502.2" fill="none" stroke="#000" stroke-width="2.8"/><path d="M157.3 2367.7V2387.2M253.6 2367.7V2387.2M349.9 2367.7V2387.2M446.1 2367.7V2387.2M542.4 2367.7V2387.2M638.7 2367.7V2387.2M138.3 2256.9H118.8M138.3 2139.4H118.8M138.3 2021.8H118.8M138.3 1904.3H118.8" stroke="#000" stroke-width="2.8" fill="none"/><text x="157.3" y="2419.7" font-size="40.0" text-anchor="middle">0.00</text><text x="349.9" y="2419.7" font-size="40.0" text-anchor="middle">0.04</text><text x="542.4" y="2419.7" font-size="40.0" text-anchor="middle">0.08</text><text transform="translate(108.4 2256.9) rotate(-90)" font-size="40.0" text-anchor="middle">0.05</text><text transform="translate(108.4 2139.4) rotate(-90)" font-size="40.0" text-anchor="middle">0.10</text><text transform="translate(108.4 2021.8) rotate(-90)" font-size="40.0" text-anchor="middle">0.15</text><text transform="translate(108.4 1904.3) rotate(-90)" font-size="40.0" text-anchor="middle">0.20</text><text x="635.8" y="1924.2" font-size="55" font-weight="bold" text-anchor="end">Zn</text><text x="473.5" y="1968.4" font-size="40.0">R</text><text x="500.1" y="1956.5" font-size="26.9">2</text><text x="519.1" y="1968.4" font-size="40.0">=</text><text x="550.3" y="1968.4" font-size="40.0">0.41*</text></g><g><clipPath id="cAs"><rect x="769.5" y="1865.5" width="519.7" height="502.2"/></clipPath><g clip-path="url(#cAs)"><circle cx="798" cy="1883.8" r="7.5" fill="#0707a0"/><path d="M822.2 2069.5L832.3 2087L812.1 2087Z" fill="#0707a0"/><path d="M841.1 2067.2L851.2 2084.7L831 2084.7Z" fill="#0707a0"/><circle cx="818.6" cy="2121.1" r="7.5" fill="#0707a0"/><circle cx="967.5" cy="2117.4" r="7.5" fill="#f20606"/><circle cx="910" cy="2130.8" r="7.5" fill="#f20606"/><path d="M1007.9 2120.3L1018 2137.8L997.8 2137.8Z" fill="#0cbdf4"/><path d="M867.6 2132.7L877.7 2150.2L857.5 2150.2Z" fill="#0cbdf4"/><path d="M956.7 2131.1L966.8 2148.6L946.6 2148.6Z" fill="#0cbdf4"/><circle cx="903.4" cy="2149.3" r="7.5" fill="#0cbdf4"/><path d="M1028 2138.3L1038.1 2155.8L1017.9 2155.8Z" fill="#0cbdf4"/><circle cx="844.5" cy="2142.4" r="7.5" fill="#0707a0"/><circle cx="842.2" cy="2153.2" r="7.5" fill="#0707a0"/><circle cx="839.9" cy="2163.9" r="7.5" fill="#0707a0"/><circle cx="829.9" cy="2167" r="7.5" fill="#068f0c"/><circle cx="881.2" cy="2163.9" r="7.5" fill="#068f0c"/><circle cx="964" cy="2158.6" r="7.5" fill="#068f0c"/><circle cx="912.3" cy="2170.9" r="7.5" fill="#068f0c"/><circle cx="919.3" cy="2176.3" r="7.5" fill="#f20606"/><circle cx="933.9" cy="2170.1" r="7.5" fill="#0707a0"/><circle cx="933.9" cy="2180.9" r="7.5" fill="#068f0c"/><path d="M948.6 2170L958.7 2187.5L938.5 2187.5Z" fill="#068f0c"/><path d="M807.5 2164.6L817.6 2182.1L797.4 2182.1Z" fill="#0707a0"/><circle cx="863.3" cy="2178.6" r="7.5" fill="#0707a0"/><path d="M836 2181.3L846.1 2198.8L825.9 2198.8Z" fill="#f20606"/><path d="M846.8 2182.3L856.9 2199.8L836.7 2199.8Z" fill="#0707a0"/><path d="M833.7 2184.3L843.8 2201.8L823.6 2201.8Z" fill="#0707a0"/><circle cx="818.6" cy="2203.2" r="7.5" fill="#068f0c"/><path d="M833.7 2194.3L843.8 2211.8L823.6 2211.8Z" fill="#0cbdf4"/><path d="M846.8 2194.6L856.9 2212.1L836.7 2212.1Z" fill="#f20606"/><circle cx="865.3" cy="2197.9" r="7.5" fill="#068f0c"/><path d="M891.8 2193.6L901.9 2211.1L881.7 2211.1Z" fill="#068f0c"/><path d="M886.1 2198.3L896.2 2215.8L876 2215.8Z" fill="#068f0c"/><path d="M918.5 2193.3L928.6 2210.8L908.4 2210.8Z" fill="#0cbdf4"/><circle cx="839.1" cy="2214.8" r="7.5" fill="#0cbdf4"/><circle cx="823.3" cy="2224.8" r="7.5" fill="#0cbdf4"/><path d="M841.4 2215.3L851.5 2232.8L831.3 2232.8Z" fill="#0cbdf4"/><path d="M861.5 2207.7L871.6 2225.2L851.4 2225.2Z" fill="#f20606"/><circle cx="987.1" cy="2206.3" r="7.5" fill="#0cbdf4"/><circle cx="1011" cy="2214.8" r="7.5" fill="#f20606"/><circle cx="1016.4" cy="2228.7" r="7.5" fill="#f20606"/><path d="M1022.5 2199.3L1032.6 2216.8L1012.4 2216.8Z" fill="#068f0c"/><circle cx="867.6" cy="2231.8" r="7.5" fill="#0707a0"/><path d="M867.6 2226.3L877.7 2243.8L857.5 2243.8Z" fill="#068f0c"/><path d="M869.2 2220.3L879.3 2237.8L859.1 2237.8Z" fill="#f20606"/><circle cx="880.7" cy="2239.8" r="7.5" fill="#0707a0"/><path d="M845.3 2225.3L855.4 2242.8L835.2 2242.8Z" fill="#0707a0"/><circle cx="891.5" cy="2250" r="7.5" fill="#068f0c"/><path d="M918.5 2240.3L928.6 2257.8L908.4 2257.8Z" fill="#0707a0"/><path d="M922.4 2234.3L932.5 2251.8L912.3 2251.8Z" fill="#068f0c"/><path d="M978.9 2227.1L989 2244.6L968.8 2244.6Z" fill="#0cbdf4"/><path d="M1000.2 2243.3L1010.3 2260.8L990.1 2260.8Z" fill="#068f0c"/><path d="M855.3 2247L865.4 2264.5L845.2 2264.5Z" fill="#f20606"/><path d="M898.5 2267.8L908.6 2285.3L888.4 2285.3Z" fill="#f20606"/><path d="M938.2 2277.1L948.3 2294.6L928.1 2294.6Z" fill="#068f0c"/><path d="M815.2 2282.3L825.3 2299.8L805.1 2299.8Z" fill="#0707a0"/><path d="M825.7 2279.9L835.8 2297.4L815.6 2297.4Z" fill="#0707a0"/><path d="M891.2 2337.2L901.3 2354.7L881.1 2354.7Z" fill="#f20606"/><path d="M1093.3 2092.1L1103.4 2109.6L1083.2 2109.6Z" fill="#068f0c"/><circle cx="1194.3" cy="2129.3" r="7.5" fill="#f20606"/><circle cx="1230" cy="2144.4" r="7.5" fill="#f20606"/><circle cx="1251.2" cy="2139.6" r="7.5" fill="#0cbdf4"/><circle cx="1123.2" cy="2138.4" r="7.5" fill="#0cbdf4"/><path d="M1113 2139.6L1123.1 2157.1L1102.9 2157.1Z" fill="#0cbdf4"/><path d="M1032.1 2136.9L1042.2 2154.4L1022 2154.4Z" fill="#0cbdf4"/><path d="M1153.8 2146.8L1163.9 2164.3L1143.7 2164.3Z" fill="#0cbdf4"/><circle cx="1056.4" cy="2180.5" r="7.5" fill="#0cbdf4"/><circle cx="1197.8" cy="2182.4" r="7.5" fill="#f20606"/><path d="M1094.1 2182.9L1104.2 2200.4L1084 2200.4Z" fill="#068f0c"/><circle cx="1139.7" cy="2197.3" r="7.5" fill="#0cbdf4"/><circle cx="1091" cy="2205.1" r="7.5" fill="#f20606"/><circle cx="1100.7" cy="2234.2" r="7.5" fill="#f20606"/><path d="M797.6 2178.7L798 2178.9L798.4 2179.1L798.8 2179.3L799.2 2179.4L799.6 2179.6L800.1 2179.8L800.5 2180L801 2180.2L801.5 2180.4L802 2180.6L802.6 2180.7L803.1 2180.9L803.7 2181.1L804.3 2181.3L805 2181.5L805.6 2181.7L806.3 2181.8L807 2182L807.8 2182.2L808.5 2182.4L809.3 2182.6L810.2 2182.8L811 2182.9L811.9 2183.1L812.9 2183.3L813.9 2183.5L814.9 2183.7L815.9 2183.9L817 2184L818.2 2184.2L819.4 2184.4L820.6 2184.6L821.9 2184.8L823.2 2185L824.6 2185.2L826 2185.3L827.5 2185.5L829.1 2185.7L830.7 2185.9L832.4 2186.1L834.2 2186.3L836 2186.4L837.9 2186.6L839.9 2186.8L841.9 2187L844.1 2187.2L846.3 2187.4L848.6 2187.5L851 2187.7L853.5 2187.9L856.1 2188.1L858.8 2188.3L861.6 2188.5L864.5 2188.6L867.6 2188.8L870.7 2189L874 2189.2L877.5 2189.4L881 2189.6L884.7 2189.7L888.6 2189.9L890.6 2190L892.6 2190.1L894.7 2190.2L896.8 2190.3L899 2190.4L901.2 2190.5L903.4 2190.6L905.7 2190.7L908.1 2190.8L910.5 2190.9L912.9 2191L915.4 2191L917.9 2191.1L920.5 2191.2L923.2 2191.3L925.9 2191.4L928.6 2191.5L931.4 2191.6L934.3 2191.7L937.2 2191.8L940.2 2191.9L943.2 2192L946.3 2192.1L949.5 2192.2L952.7 2192.3L956 2192.3L959.3 2192.4L962.7 2192.5L966.2 2192.6L969.8 2192.7L973.4 2192.8L977.1 2192.9L980.9 2193L984.7 2193.1L988.6 2193.2L992.6 2193.3L996.7 2193.4L1000.9 2193.5L1005.1 2193.6L1009.5 2193.6L1013.9 2193.7L1018.4 2193.8L1023 2193.9L1027.7 2194L1032.5 2194.1L1037.3 2194.2L1042.3 2194.3L1047.4 2194.4L1052.6 2194.5L1057.8 2194.6L1063.2 2194.7L1068.7 2194.8L1074.3 2194.9L1080 2194.9L1085.9 2195L1091.8 2195.1L1097.9 2195.2L1104.1 2195.3L1110.4 2195.4L1116.8 2195.5L1123.4 2195.6L1130.1 2195.7L1136.9 2195.8L1143.9 2195.9L1151 2196L1158.2 2196.1L1165.6 2196.2L1173.2 2196.2L1180.9 2196.3L1188.7 2196.4L1196.7 2196.5L1204.9 2196.6L1213.2 2196.7L1221.7 2196.8L1230.4 2196.9L1239.2 2197L1248.2 2197.1L1257.4 2197.2L1266.8 2197.3L1276.4 2197.4L1286.1 2197.5L1296.1 2197.5" fill="none" stroke="#000" stroke-width="6.4" stroke-linejoin="round" stroke-linecap="round"/></g><rect x="769.5" y="1865.5" width="519.7" height="502.2" fill="none" stroke="#000" stroke-width="2.8"/><path d="M788.5 2367.7V2387.2M884.8 2367.7V2387.2M981.1 2367.7V2387.2M1077.3 2367.7V2387.2M1173.6 2367.7V2387.2M1269.9 2367.7V2387.2M769.5 2297.1H750M769.5 2197.5H750M769.5 2097.9H750M769.5 1998.3H750M769.5 1898.7H750" stroke="#000" stroke-width="2.8" fill="none"/><text x="788.5" y="2419.7" font-size="40.0" text-anchor="middle">0.00</text><text x="981.1" y="2419.7" font-size="40.0" text-anchor="middle">0.04</text><text x="1173.6" y="2419.7" font-size="40.0" text-anchor="middle">0.08</text><text transform="translate(739.6 2297.1) rotate(-90)" font-size="40.0" text-anchor="middle">5.0e−05</text><text transform="translate(739.6 2097.9) rotate(-90)" font-size="40.0" text-anchor="middle">1.5e−04</text><text transform="translate(739.6 1898.7) rotate(-90)" font-size="40.0" text-anchor="middle">2.5e−04</text><text x="1268" y="1923.2" font-size="55" font-weight="bold" text-anchor="end">As</text><text x="1087.6" y="1969.5" font-size="40.0">R</text><text x="1114.2" y="1957.6" font-size="26.9">2</text><text x="1133.2" y="1969.5" font-size="40.0">=</text><text x="1164.4" y="1969.5" font-size="40.0">-0.009</text></g><g><clipPath id="cCd"><rect x="1400.4" y="1865.5" width="519.7" height="502.2"/></clipPath><g clip-path="url(#cCd)"><circle cx="1429" cy="1883.8" r="7.5" fill="#0707a0"/><circle cx="1449.6" cy="2037.3" r="7.5" fill="#068f0c"/><path d="M1453.6 2117.3L1463.7 2134.8L1443.5 2134.8Z" fill="#0707a0"/><circle cx="1564.9" cy="2164.7" r="7.5" fill="#068f0c"/><circle cx="1461.3" cy="2185.5" r="7.5" fill="#068f0c"/><path d="M1471.7 2191.3L1481.8 2208.8L1461.6 2208.8Z" fill="#0cbdf4"/><path d="M1477.8 2196.2L1487.9 2213.7L1467.7 2213.7Z" fill="#f20606"/><path d="M1503.6 2217.8L1513.7 2235.3L1493.5 2235.3Z" fill="#f20606"/><path d="M1438.5 2227L1448.6 2244.5L1428.4 2244.5Z" fill="#0707a0"/><circle cx="1470.1" cy="2230.2" r="7.5" fill="#0cbdf4"/><circle cx="1460.9" cy="2241.8" r="7.5" fill="#068f0c"/><circle cx="1477.1" cy="2241.8" r="7.5" fill="#0707a0"/><circle cx="1494.3" cy="2244.9" r="7.5" fill="#0707a0"/><circle cx="1471.7" cy="2247.2" r="7.5" fill="#0707a0"/><path d="M1466.3 2250.3L1476.4 2267.8L1456.2 2267.8Z" fill="#f20606"/><circle cx="1475.5" cy="2264.1" r="7.5" fill="#0707a0"/><path d="M1484.8 2255.3L1494.9 2272.8L1474.7 2272.8Z" fill="#f20606"/><circle cx="1496.8" cy="2260.3" r="7.5" fill="#068f0c"/><circle cx="1512.2" cy="2260.3" r="7.5" fill="#068f0c"/><circle cx="1449.6" cy="2271.1" r="7.5" fill="#0707a0"/><path d="M1468 2265.3L1478.1 2282.8L1457.9 2282.8Z" fill="#0707a0"/><path d="M1476.6 2272.3L1486.7 2289.8L1466.5 2289.8Z" fill="#0707a0"/><path d="M1492.5 2266.3L1502.6 2283.8L1482.4 2283.8Z" fill="#f20606"/><path d="M1523.3 2262.4L1533.4 2279.9L1513.2 2279.9Z" fill="#068f0c"/><circle cx="1454.7" cy="2287.2" r="7.5" fill="#0cbdf4"/><circle cx="1511.3" cy="2283.4" r="7.5" fill="#0707a0"/><circle cx="1522.5" cy="2285" r="7.5" fill="#068f0c"/><circle cx="1540.3" cy="2289.6" r="7.5" fill="#f20606"/><circle cx="1543.3" cy="2280.3" r="7.5" fill="#068f0c"/><path d="M1550.3 2269.7L1560.4 2287.2L1540.2 2287.2Z" fill="#0cbdf4"/><path d="M1553.4 2276.3L1563.5 2293.8L1543.3 2293.8Z" fill="#068f0c"/><circle cx="1564.6" cy="2278.8" r="7.5" fill="#0707a0"/><path d="M1501 2282.2L1511.1 2299.7L1490.9 2299.7Z" fill="#068f0c"/><path d="M1498.6 2293.3L1508.7 2310.8L1488.5 2310.8Z" fill="#0cbdf4"/><path d="M1446.2 2294.5L1456.3 2312L1436.1 2312Z" fill="#0707a0"/><path d="M1456.7 2305.3L1466.8 2322.8L1446.6 2322.8Z" fill="#0707a0"/><circle cx="1465" cy="2304.2" r="7.5" fill="#068f0c"/><circle cx="1499.9" cy="2321.2" r="7.5" fill="#0707a0"/><path d="M1517.1 2306.4L1527.2 2323.9L1507 2323.9Z" fill="#068f0c"/><path d="M1529.5 2298.7L1539.6 2316.2L1519.4 2316.2Z" fill="#f20606"/><circle cx="1534.4" cy="2321.2" r="7.5" fill="#0cbdf4"/><circle cx="1550.3" cy="2312.7" r="7.5" fill="#f20606"/><circle cx="1563.4" cy="2315.8" r="7.5" fill="#0cbdf4"/><path d="M1569.2 2311L1579.3 2328.5L1559.1 2328.5Z" fill="#068f0c"/><path d="M1579.6 2296.3L1589.7 2313.8L1569.5 2313.8Z" fill="#068f0c"/><path d="M1587.7 2281.3L1597.8 2298.8L1577.6 2298.8Z" fill="#0cbdf4"/><circle cx="1595" cy="2298.8" r="7.5" fill="#068f0c"/><path d="M1609.9 2303.3L1620 2320.8L1599.8 2320.8Z" fill="#0cbdf4"/><circle cx="1618.1" cy="2277.2" r="7.5" fill="#0cbdf4"/><path d="M1638.6 2270.3L1648.7 2287.8L1628.5 2287.8Z" fill="#0cbdf4"/><path d="M1653.5 2272.3L1663.6 2289.8L1643.4 2289.8Z" fill="#068f0c"/><circle cx="1642" cy="2292.6" r="7.5" fill="#f20606"/><path d="M1632 2290.3L1642.1 2307.8L1621.9 2307.8Z" fill="#068f0c"/><circle cx="1647.4" cy="2326.6" r="7.5" fill="#f20606"/><path d="M1657.4 2323.3L1667.5 2340.8L1647.3 2340.8Z" fill="#0cbdf4"/><circle cx="1598.5" cy="2337.3" r="7.5" fill="#f20606"/><path d="M1549.2 2331.5L1559.3 2349L1539.1 2349Z" fill="#0707a0"/><path d="M1522.5 2337.2L1532.6 2354.7L1512.4 2354.7Z" fill="#f20606"/><circle cx="1721.8" cy="2311.9" r="7.5" fill="#f20606"/><path d="M1724.9 2294.3L1735 2311.8L1714.8 2311.8Z" fill="#068f0c"/><path d="M1724.9 2303.3L1735 2320.8L1714.8 2320.8Z" fill="#068f0c"/><path d="M1743.8 2310.1L1753.9 2327.6L1733.7 2327.6Z" fill="#0cbdf4"/><path d="M1662.9 2324.5L1673 2342L1652.8 2342Z" fill="#0cbdf4"/><circle cx="1687.7" cy="2340.9" r="7.5" fill="#0cbdf4"/><circle cx="1731.7" cy="2339.3" r="7.5" fill="#f20606"/><circle cx="1754" cy="2348.8" r="7.5" fill="#0cbdf4"/><circle cx="1771.2" cy="2335.4" r="7.5" fill="#0cbdf4"/><path d="M1784.6 2328.3L1794.7 2345.8L1774.5 2345.8Z" fill="#0cbdf4"/><circle cx="1825.4" cy="2312.6" r="7.5" fill="#f20606"/><circle cx="1829.4" cy="2311.9" r="7.5" fill="#f20606"/><circle cx="1860.8" cy="2305.6" r="7.5" fill="#f20606"/><circle cx="1882" cy="2321.3" r="7.5" fill="#0cbdf4"/><path d="M1428.5 2159.1L1428.9 2161L1429.3 2162.9L1429.7 2164.8L1430.1 2166.7L1430.5 2168.6L1431 2170.5L1431.4 2172.4L1431.9 2174.3L1432.4 2176.2L1432.9 2178.1L1433.5 2180L1434 2181.9L1434.6 2183.8L1435.2 2185.7L1435.9 2187.7L1436.5 2189.6L1437.2 2191.5L1437.9 2193.4L1438.7 2195.3L1439.4 2197.2L1440.2 2199.1L1441.1 2201L1441.9 2202.9L1442.8 2204.8L1443.8 2206.7L1444.8 2208.6L1445.8 2210.5L1446.8 2212.4L1447.9 2214.3L1449.1 2216.2L1450.3 2218.1L1451.5 2220L1452.8 2221.9L1454.1 2223.8L1455.5 2225.7L1456.9 2227.6L1458.4 2229.5L1460 2231.4L1461.6 2233.4L1463.3 2235.3L1465.1 2237.2L1466.9 2239.1L1468.8 2241L1470.8 2242.9L1472.8 2244.8L1475 2246.7L1477.2 2248.6L1479.5 2250.5L1481.9 2252.4L1484.4 2254.3L1487 2256.2L1489.7 2258.1L1492.5 2260L1495.4 2261.9L1498.5 2263.8L1501.6 2265.7L1504.9 2267.6L1508.4 2269.5L1511.9 2271.4L1515.6 2273.3L1519.5 2275.2L1521.5 2276.2L1523.5 2277.2L1525.6 2278.1L1527.7 2279.1L1529.9 2280.1L1532.1 2281L1534.3 2282L1536.6 2282.9L1539 2283.9L1541.4 2284.9L1543.8 2285.8L1546.3 2286.8L1548.8 2287.7L1551.4 2288.7L1554.1 2289.7L1556.8 2290.6L1559.5 2291.6L1562.3 2292.6L1565.2 2293.5L1568.1 2294.5L1571.1 2295.4L1574.1 2296.4L1577.2 2297.4L1580.4 2298.3L1583.6 2299.3L1586.9 2300.2L1590.2 2301.2L1593.6 2302.2L1597.1 2303.1L1600.7 2304.1L1604.3 2305L1608 2306L1611.8 2307L1615.6 2307.9L1619.5 2308.9L1623.5 2309.9L1627.6 2310.8L1631.8 2311.8L1636 2312.7L1640.4 2313.7L1644.8 2314.7L1649.3 2315.6L1653.9 2316.6L1658.6 2317.5L1663.4 2318.5L1668.2 2319.5L1673.2 2320.4L1678.3 2321.4L1683.5 2322.4L1688.7 2323.3L1694.1 2324.3L1699.6 2325.2L1705.2 2326.2L1710.9 2327.2L1716.8 2328.1L1722.7 2329.1L1728.8 2330L1735 2331L1741.3 2332L1747.7 2332.9L1754.3 2333.9L1761 2334.9L1767.8 2335.8L1774.8 2336.8L1781.9 2337.7L1789.1 2338.7L1796.5 2339.7L1804.1 2340.6L1811.8 2341.6L1819.6 2342.5L1827.6 2343.5L1835.8 2344.5L1844.1 2345.4L1852.6 2346.4L1861.3 2347.4L1870.1 2348.3L1879.1 2349.3L1888.3 2350.2L1897.7 2351.2L1907.3 2352.2L1917 2353.1L1927 2354.1" fill="none" stroke="#000" stroke-width="6.4" stroke-linejoin="round" stroke-linecap="round"/></g><rect x="1400.4" y="1865.5" width="519.7" height="502.2" fill="none" stroke="#000" stroke-width="2.8"/><path d="M1419.4 2367.7V2387.2M1515.7 2367.7V2387.2M1612 2367.7V2387.2M1708.2 2367.7V2387.2M1804.5 2367.7V2387.2M1900.8 2367.7V2387.2M1400.4 2318.8H1380.9M1400.4 2235.8H1380.9M1400.4 2152.8H1380.9M1400.4 2069.8H1380.9M1400.4 1986.8H1380.9M1400.4 1903.8H1380.9" stroke="#000" stroke-width="2.8" fill="none"/><text x="1419.4" y="2419.7" font-size="40.0" text-anchor="middle">0.00</text><text x="1612" y="2419.7" font-size="40.0" text-anchor="middle">0.04</text><text x="1804.5" y="2419.7" font-size="40.0" text-anchor="middle">0.08</text><text transform="translate(1370.5 2318.8) rotate(-90)" font-size="40.0" text-anchor="middle">5.0e−05</text><text transform="translate(1370.5 2152.8) rotate(-90)" font-size="40.0" text-anchor="middle">1.5e−04</text><text transform="translate(1370.5 1986.8) rotate(-90)" font-size="40.0" text-anchor="middle">2.5e−04</text><text x="1904.6" y="1926.8" font-size="55" font-weight="bold" text-anchor="end">Cd</text><text x="1730.6" y="1969.3" font-size="40.0">R</text><text x="1757.2" y="1957.4" font-size="26.9">2</text><text x="1776.2" y="1969.3" font-size="40.0">=</text><text x="1807.4" y="1969.3" font-size="40.0">0.38*</text></g><text transform="translate(35.7 1182.8) rotate(-90)" font-size="47" font-weight="bold" text-anchor="middle" id="ylab">Metal concentration (mmol/g) in oysters</text><text x="1026.3" y="2481.5" font-size="47" font-weight="bold" text-anchor="middle" id="xlab">Dry weight (g)</text></svg></body></html>
